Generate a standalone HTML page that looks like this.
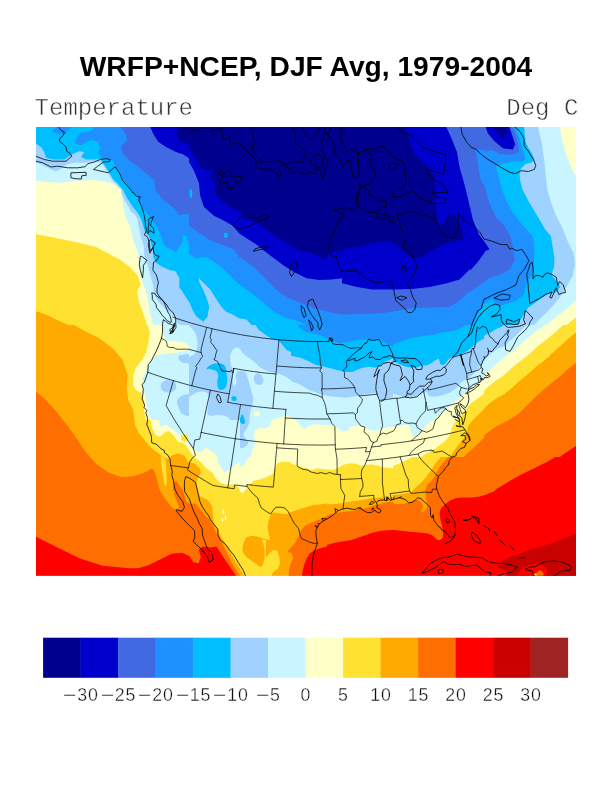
<!DOCTYPE html>
<html lang="en"><head><meta charset="utf-8"><title>WRFP+NCEP, DJF Avg, 1979-2004</title>
<style>
html,body{margin:0;padding:0;background:#fff;}
body{width:612px;height:792px;position:relative;overflow:hidden;font-family:"Liberation Sans",sans-serif;}
#map{position:absolute;left:0;top:0;}
.title{position:absolute;left:0;top:51.2px;width:612px;text-align:center;font:bold 28.2px/30px "Liberation Sans",sans-serif;color:#000;letter-spacing:0px;white-space:nowrap;}
.sub{position:absolute;top:97.2px;font:24px/24px "Liberation Mono",monospace;color:#333;white-space:nowrap;-webkit-text-stroke:0.5px #fff;}
.sub.l{left:34.6px;letter-spacing:0px;}
.sub.r{left:506.3px;letter-spacing:0px;}
.lb{position:absolute;top:685.3px;width:60px;text-align:center;font:17.8px/20px "Liberation Sans",sans-serif;color:#111;white-space:nowrap;letter-spacing:0.8px;-webkit-text-stroke:0.35px #fff;}
.lb i{font-style:normal;display:inline-block;transform:scaleX(1.3);transform-origin:100% 50%;margin-left:1px;}
</style></head><body>
<svg id="map" width="612" height="792" viewBox="0 0 612 792">
<defs><clipPath id="cp"><rect x="36" y="127" width="540" height="448.7"/></clipPath><clipPath id="t0"><rect x="36" y="127" width="153" height="198"/></clipPath><clipPath id="t1"><rect x="189" y="127" width="153" height="198"/></clipPath><clipPath id="t2"><rect x="342" y="127" width="128" height="198"/></clipPath><clipPath id="t3"><rect x="470" y="127" width="106" height="198"/></clipPath><clipPath id="t4"><rect x="36" y="325" width="153" height="198"/></clipPath><clipPath id="t5"><rect x="36" y="523" width="102" height="53"/></clipPath><clipPath id="t6"><rect x="189" y="325" width="102" height="132"/></clipPath><clipPath id="t7"><rect x="291" y="325" width="102" height="132"/></clipPath><clipPath id="t8"><rect x="189" y="457" width="102" height="120"/></clipPath><clipPath id="t9"><rect x="291" y="457" width="102" height="120"/></clipPath><clipPath id="t10"><rect x="393" y="325" width="91" height="132"/></clipPath><clipPath id="t11"><rect x="484" y="325" width="92" height="132"/></clipPath><clipPath id="t12"><rect x="393" y="457" width="102" height="120"/></clipPath><clipPath id="t13"><rect x="495" y="457" width="81" height="120"/></clipPath><clipPath id="t14"><rect x="225" y="500" width="102" height="77"/></clipPath><clipPath id="t15"><rect x="138" y="420" width="102" height="120"/></clipPath><clipPath id="t16"><rect x="138" y="540" width="128" height="36"/></clipPath></defs>
<g clip-path="url(#cp)">
<rect x="36" y="127" width="540" height="448.7" fill="#c8f5ff"/>
<g clip-path="url(#t0)">
<rect x="36" y="127" width="153" height="198" fill="#c8f5ff"/>
<path fill="#a0d2ff" d="M35.2,162.3L42.7,165.3 51,169.5 56,171.2 61,168.7 66.8,164.5 74.3,162.8 84.3,162.8 94.3,161.2 101,162.8 104.3,167 107.7,172.8 111.8,180.3 116.8,185.3 118.6,188 121.4,193.7 124.3,199.4 128.3,206.3 131.2,212 134.6,214.3 137.5,218.9 138,224.6 139.7,230.3 140.9,237.2 143.2,244.1 144.3,250.9 144.3,257.8 147.7,264.6 148.9,270 153,285 154.2,295 159.2,302.5 166.8,310 174.2,316.2 178,323.8 185.5,327.5 195.5,330 700,330 700,-50 -50,-50Z"/>
<path fill="#00bfff" d="M35.2,143.2L41,147 44.3,152 46,157.8 52.7,159.5 64.3,159.5 71.8,154.5 79.3,151.2 84.3,152 81,157 86,159.5 94.3,159.5 100.2,158.7 102.7,162.8 106,167.8 109.3,172.8 112.7,178.7 117.7,183.7 122.7,189.5 127.2,198.3 131.7,205.2 136.3,210.9 138.6,214.3 141.5,220 143.2,225.8 144.9,231.5 149.5,237.2 151.2,244.1 152.9,250.9 153.5,257.8 155.8,262.4 160.3,265.8 164.9,268.1 169.5,270 175.5,271.2 180.5,280 179.2,287.5 185.5,295 190.5,305 195.5,315 700,320 700,-50 -50,-50Z"/>
<path fill="#00bfff" d="M179.2,285L183.3,293.3 189.2,301.7 192.5,310 196.7,316.7 203.3,321.7 207.5,316.7 209.2,306.7 206.7,298.3 203.3,290 199.2,281.7 198.3,276 195,268 180,268Z"/>
<path fill="#1e90ff" d="M94.3,126.2L91,131.2 81,132.8 76,138.7 75.2,143.7 81,145.3 91,139.5 97.7,142 100.2,147 98.5,153.7 101.8,157.8 109.3,158.7 113.5,161.2 115.2,167 119.3,172.8 122.7,178.7 126.8,183.7 130.6,190.3 134.6,194.3 138.6,198.3 140.3,202.9 143.2,208.6 147.7,214.3 150,217.7 154.6,223.5 158,229.2 161.5,237.2 163.8,244.1 167.2,247.5 171.8,249.8 175.8,252.1 180,246 183,241 182.5,235 186.8,236.3 189.3,247.5 195.5,257.5 205.5,260 700,260 700,-50 300,-50Z"/>
<path fill="#1e90ff" d="M52.7,130.3L57.7,126.2 71.8,126.2 65.2,133.7 59.3,134.5 52.7,132Z"/>
<path fill="#4169e1" d="M120.2,126.2L126,133.7 126.8,140.3 121,147 122.7,153.7 129.3,160.3 136,165.3 154.2,180 155.5,190 163,200 173,207.5 179.2,215 188,213.8 193,217.5 203,226.2 700,230 700,-50 120,-50Z"/>
<path fill="#0000cd" d="M149.8,125.8L153.5,134.5 158.5,142 166,147 176,152 183.5,154.5 189,158.2 199.2,190 203,200 209.2,207.5 700,210 700,-50Z"/>
<path fill="#00008e" d="M177.2,125.8L176.8,134.5 179.8,140.8 186,143.2 189,144 200,165 700,170 700,-50Z"/>
<path fill="#ffffc8" d="M35.2,180.3L46,182 61,182.8 77.7,180.7 94.3,180 106,181.7 114.3,184.5 121,189.5 123,205 125.5,217.5 130.5,227.5 133,240 138,252.5 139.2,265 141.8,280 145.5,290 148,300 150.5,315 154.2,327.5 154,850 -50,850Z"/>
<path fill="#ffe132" d="M34.8,234L51,237 66,240 81,243.2 96,247 120.5,260 130.5,267.5 138,276.2 140.5,285 136.8,291.2 139.2,302.5 143,312.5 146.8,325 149.2,340 149,850 -50,850Z"/>
<path fill="#ffaa00" d="M34.8,310.8L46,314.5 58.5,320.8 68.5,325 60,850 -50,850Z"/>
</g>
<g clip-path="url(#t1)">
<rect x="189" y="127" width="153" height="198" fill="#a0d2ff"/>
<path fill="#00bfff" d="M189,302L194,292 199,278.2 204,283.2 210.2,289.5 216.5,299.5 221.5,307 226.5,312 232.8,314.5 239,318.2 246.5,319.5 251.5,325 252,850 700,850 700,-50 -50,-50 -50,302Z"/>
<path fill="#00bfff" d="M179.2,285L183.3,293.3 189.2,301.7 192.5,310 196.7,316.7 203.3,321.7 207.5,316.7 209.2,306.7 206.7,298.3 203.3,290 199.2,281.7 198.3,276 195,268 180,268Z"/>
<path fill="#1e90ff" d="M189,254.5L196.5,258.2 206.5,257 216.5,263.2 226.5,272 236.5,282 246.5,289.5 256.5,297 266.5,305.8 276.5,313.2 286.5,318.2 296.5,320.8 306.5,325 700,330 700,-50 -50,-50 -50,254Z"/>
<path fill="#4169e1" d="M189,225.8L199,233.2 209,239.5 221.5,244.5 234,249.5 239,257 249,263.2 259,272 269,282 279,292 289,298.2 301.5,303.2 314,308.2 329,312 342,314.5 700,315 700,-50 -50,-50 -50,226Z"/>
<path fill="#0000cd" d="M189,162L194,170.8 199,183.2 200.2,195.8 204,207 214,215.8 224,220.8 232.8,225.8 239,233.2 246.5,238.2 256.5,244.5 264,250.8 274,258.2 284,265.8 294,272 306.5,278.2 319,280 331.5,279.5 342,278.2 700,278 700,-50 -50,-50 -50,162Z"/>
<path fill="#00008e" d="M189,148.2L195.2,157 201.5,168.2 210.2,170.8 214,168.2 210.2,177 215.2,183.2 214,192 221.5,200.8 230.2,207 239,210.8 245.2,217 251.5,220.8 257.8,223.2 266.5,229.5 276.5,237 289,244.5 299,250.8 309,252 316.5,255.8 325.2,259.5 330.2,252 342,250.8 700,250 700,-50 -50,-50 -50,148Z"/>
<path fill="#00bfff" d="M189.5,190L191.5,189 192.3,193 191.5,198 189.8,197Z"/>
<path fill="#00bfff" d="M224,233.5L226.5,232.5 228,235 227,238 224.5,237.5Z"/>
</g>
<g clip-path="url(#t2)">
<rect x="342" y="127" width="128" height="198" fill="#1e90ff"/>
<path fill="#4169e1" d="M342,314.5L362,314 382,313.2 397,310.8 412,308.2 429.5,307.5 449.5,307 460,300.5 469.2,291.5 482,282 495,273.2 700,287 700,-50 -50,-50 -50,314Z"/>
<path fill="#0000cd" d="M342,283.2L357,287 372,289.5 392,289.5 412,289 429.5,287 447,283.2 459.5,279.5 467,272 477,262 485.8,250.8 489.5,244.5 482,237 474.5,227 470.8,212 468.2,199.5 464.5,184.5 459.5,167 457,152 452,139.5 445.8,125.8 440,-50 -50,-50 -50,283Z"/>
<path fill="#00008e" d="M342,249.5L357,247 372,243.2 387,240.8 395.8,244.5 404.5,252 412,258.2 422,257 429.5,252 438.2,247 447,243.2 457,240.8 463.2,239.5 462,229.5 458.2,220.8 454.5,215.8 449.5,213.2 444.5,222 440.8,227 438.2,222 436.5,212 435.8,202 435,192 434.5,182 433.2,174.5 427,167 419.5,159.5 413.2,152 410.8,144.5 408.2,135.8 404.5,125.8 400,-50 -50,-50 -50,249Z"/>
</g>
<g clip-path="url(#t3)">
<rect x="470" y="127" width="106" height="198" fill="#ffffc8"/>
<path fill="#c8f5ff" d="M559.7,125.6L562.5,142.2 566.7,156.1 572.2,170 577.8,179.7 583.3,231.1 577.8,286.7 575.8,300.6 566.7,308.9 555.6,317.2 544.4,326.9 530.6,340.8 540,850 -50,850 -50,-50Z"/>
<path fill="#a0d2ff" d="M537.5,125.6L541.7,142.2 544.4,161.7 545.8,175.6 547.2,189.4 551.4,203.3 555.6,214.4 562.5,228.3 568.1,242.2 573.6,253.3 575,264.4 572.8,275.6 566.7,286.7 559.7,297.8 550,308.9 538.9,320 527.8,331.1 519.4,340.8 520,850 -50,850 -50,-50Z"/>
<path fill="#00bfff" d="M524.1,125.9L524.8,134.7 525.5,142.1 528.5,147.9 532.1,153.8 534.4,159.7 531.4,162.6 525.5,164.1 521.1,168.5 519.6,174.4 520,180 522.5,189.5 529,202 536.5,214.5 545.2,229.5 550.9,236 552.5,246 554.5,258 554,267 551.5,274.5 555.2,279.5 560.2,287 556.5,292 546.5,294.5 538.9,300 527.8,308 523,316 519,322 515,331 505,850 -50,850 -50,-50Z"/>
<path fill="#1e90ff" d="M513.8,125.9L516.7,131 518.9,136.2 520.4,142.1 522.6,149.4 524.8,155.3 525.5,159 522.6,161.2 515.2,161.2 507.9,162.6 500.5,164.1 496.1,165.6 496.9,171.5 498,176 499.5,180 502,190 507,202 513,213 520,222 527,230 532.8,236 534.5,250 534,262 531.9,275.6 526.4,283.9 523.6,295 516.7,300.6 508.3,303.3 500,306.1 491.5,299.5 482.8,304.5 477.8,313.2 472.8,325.8 470,850 -50,850 -50,-50Z"/>
<path fill="#4169e1" d="M511.6,125.9L514.5,131.8 516.7,137.6 518.2,145 518.9,151.6 513.8,154.6 506.4,154.6 499.1,153.8 494.6,150.9 490.2,150.1 487.3,151.6 481.4,149.4 476.3,148.7 476.3,153.8 477.7,164.1 479.2,171.5 480.7,180 484,184.5 489,202 496,217.5 504.3,225.8 509.9,235.6 512,242.5 513.4,250.8 514.8,259.2 512.7,263.3 509.9,268.9 504.3,273.1 496,275.8 489,278.2 479,285.8 469,292.5 459,299.5 -50,300 -50,-50Z"/>
<path fill="#0000cd" d="M459,165.8L464.5,184.5 469,202 472.8,219.5 479,234.5 486.5,244.5 489.5,249.5 485.8,250.8 477.8,262 469,272 459,279.5 -50,280 -50,165Z"/>
<path fill="#0000cd" d="M485.2,125.8L487.8,133.2 494,140.8 502.8,148.2 512.8,149.5 515.2,144.5 512.8,137 510.2,129.5 509,125.8 500,-50Z"/>
<path fill="#00008e" d="M492.8,125.8L496.5,132 502.8,138.2 506.5,132 507.8,125.8 500,-50Z"/>
<path fill="#ffe132" d="M576.5,317L566.5,325 565,850 700,850 700,317Z"/>
</g>
<g clip-path="url(#t4)">
<rect x="36" y="325" width="153" height="198" fill="#c8f5ff"/>
<path fill="#ffffc8" d="M162.2,325L163.5,335 166,340.5 176,341.2 186,342.5 189,346.2 189,350 178.5,352.5 166,353.8 156,355 149.8,362.5 146,371.2 142.2,378.8 143.5,387.5 146,400 148.5,412.5 152.2,422.5 157.2,430 161,425 166,425 172.2,431.2 178.5,436.2 186,437.5 189,438.8 700,440 700,850 -50,850 -50,-50 162,-50Z"/>
<path fill="#ffe132" d="M147.8,325L149.8,332.5 148.5,342.5 146,352.5 142.2,360 136,367.5 133.5,375 133,385 136,390.5 141,392.5 143.5,400 144,410 146,420 149,430 153.5,435 153,850 -50,850 -50,-50 148,-50Z"/>
<path fill="#ffaa00" d="M72.7,324L86,331.7 99.3,338.3 112.7,348.3 122.7,360 127.7,375 126.7,388.3 128.3,400 133.3,410 135,425 139.3,433.3 145.7,441.7 151.7,448.3 168,850 -50,850 -50,-50 73,-50Z"/>
<path fill="#ff6e00" d="M34.8,390.5L46,400 56,411.2 66,423.8 76,437.5 86,452.5 96,463.8 108.5,472.5 121,477 133.5,476.2 143.5,472.5 152.2,467.5 154.8,472.5 156,480 158.5,487.5 163.5,497.5 171,505 176,511.2 179.8,517.5 183.5,523 183,850 -50,850Z"/>
<path fill="#a0d2ff" d="M161,383.8C161.8,382.1 164.9,380.2 167.2,380C169.5,379.8 173.3,381 174.8,382.5C176.3,384 176.8,387.1 176,388.8C175.2,390.5 172.1,392.2 169.8,392.5C167.5,392.8 163.7,391.9 162.2,390.5C160.7,389.1 160.2,385.6 161,383.8Z"/>
<path fill="#a0d2ff" d="M178.5,356.2C180,354.9 188.9,353.4 191,354.5C193.1,355.6 192.5,361.2 191,362.5C189.5,363.8 184.3,363.6 182.2,362.5C180.1,361.4 177,357.5 178.5,356.2Z"/>
<path fill="#a0d2ff" d="M177.2,400C178,397.9 181.2,395.6 183.5,395C185.8,394.4 189.8,392.9 191,396.2C192.2,399.5 192.5,412.1 191,415C189.5,417.9 184.3,415.1 182.2,413.8C180.1,412.6 179.3,409.8 178.5,407.5C177.7,405.2 176.4,402.1 177.2,400Z"/>
</g>
<g clip-path="url(#t5)">
<rect x="36" y="523" width="102" height="53" fill="#ff6e00"/>
<path fill="#ff0000" d="M34.3,536L56,546.7 79.3,558.3 102.7,565.7 129.3,568.3 139.3,568.3 140,850 -50,850Z"/>
</g>
<g clip-path="url(#t6)">
<rect x="189" y="325" width="102" height="132" fill="#a0d2ff"/>
<path fill="#00bfff" d="M254.8,324.2L259,330 265.7,335 272.3,339.2 279,340.8 282.3,345 286.5,350 292.3,352.5 700,-50Z"/>
<path fill="#c8f5ff" d="M188.2,328.3C189,324.1 191.8,328.6 193.2,330C194.6,331.4 195.8,334.2 196.5,336.7C197.2,339.2 197.4,342.4 197.3,345C197.2,347.6 196.7,350.7 195.7,352.5C194.7,354.3 192.8,355.4 191.5,355.8C190.2,356.2 188.8,359.6 188.2,355C187.6,350.4 187.4,332.5 188.2,328.3Z"/>
<path fill="#c8f5ff" d="M188.2,397.5L188.9,397.1 189.8,396.5 191,395.7 192.3,395 193.8,394.1 195.4,393.1 197.2,392.3 199,391.7 200.9,391.5 203,391.6 205,392 206.5,392.5 207.6,393.2 208.3,394.1 208.7,395.3 209,396.7 209,398.5 208.8,400.6 208.5,402.8 208.2,405 207.9,407.2 207.5,409.5 207.2,411.6 207.3,413.3 207.8,414.4 208.5,415.1 209.5,415.5 210.7,415.8 212.1,415.8 213.8,415.5 215.6,415.2 217.3,415 219,415 220.8,415.2 222.4,415.4 224,415.8 225.4,416.2 226.8,416.8 228,417.5 229,418.3 229.9,419.4 230.8,420.6 231.3,422 231.5,423.3 231,424.6 230.1,425.9 229,427.2 228.2,428.3 227.5,429.2 226.9,430.1 226.5,430.8 226.5,431.7 227.1,432.7 228.2,433.8 229.5,434.9 230.7,435.8 231.8,436.5 232.9,437.1 233.9,437.6 234.8,438.3 235.5,439 236,439.8 236.3,440.7 236.5,441.7 236.3,442.9 235.9,444.3 235.6,445.7 235.7,446.7 236.5,447.4 237.8,448 239.3,448.3 240.7,448.3 242.2,448 243.8,447.4 245.3,446.6 246.5,445.8 247.3,444.9 247.9,443.8 248.2,442.7 248.2,441.7 247.9,440.8 247.2,440 246.4,439.2 245.7,438.3 244.9,437.3 244.1,436.4 243.4,435.3 243.2,434.2 243.6,433 244.5,431.8 245.6,430.5 246.5,429.2 247.2,427.8 247.9,426.4 248.5,424.9 249,423.3 249.3,421.5 249.5,419.5 249.6,417.6 249.8,415.8 250,414.2 250.2,412.7 250.4,411.4 250.7,410 251.1,408.7 251.5,407.6 251.9,406.4 252.3,405 252.6,403.4 253,401.8 253.2,400 253.2,398.3 253,396.6 252.5,395 252,393.4 251.5,391.7 251.1,390.1 250.7,388.5 250.3,386.8 249.8,385 249.2,382.9 248.5,380.7 247.9,378.5 247.3,376.7 246.9,375.3 246.7,374.2 246.3,373.3 245.7,372.5 244.7,371.8 243.3,371.3 241.9,371 240.7,370.8 239.7,370.7 238.8,370.8 238,371.1 237.3,371.7 236.7,372.6 236.2,373.9 235.9,375.3 235.7,376.7 235.8,378.2 236.2,379.7 236.5,381.2 236.5,382.5 236.1,383.7 235.4,384.8 234.6,385.6 234,385.8 233.5,385.4 233.2,384.5 232.9,383.2 232.7,381.7 232.7,379.8 232.9,377.5 233.1,375.2 233.2,373.3 233.2,371.9 233.1,370.8 233,369.8 232.7,368.7 232.3,367.6 231.7,366.5 231.1,365.4 230.7,364.2 230.5,362.8 230.3,361.2 230.3,359.7 230.3,358.3 230.3,357.2 230.3,356.2 230.4,355.2 230.7,354.2 231.1,352.9 231.7,351.5 232.3,350.2 233.2,349.2 234.3,348.4 235.6,347.7 237,347.4 238.2,347.5 239.3,348.3 240.2,349.6 241.2,351.1 242.3,352.5 243.5,353.6 244.7,354.7 246,355.7 247.3,356.7 248.7,357.7 250.3,358.7 251.8,359.7 253.2,360.8 254.5,362 255.8,363.3 257,364.6 258.2,365.8 259.4,366.8 260.6,367.7 261.9,368.5 263.2,369.2 264.6,369.9 266,370.6 267.5,371.2 269,371.7 270.6,372.2 272.3,372.6 274,372.9 275.7,373.3 277.3,373.6 278.8,373.9 280.4,374.3 282.3,375 284.8,376.3 287.7,378 290.4,379.7 292.3,380.8 700,850 -50,850Z"/>
<path fill="#a0d2ff" d="M254.8,375C255.6,373.9 257.8,373 259,373.3C260.2,373.6 261.6,375.3 262.3,376.7C263.1,378.1 263.8,380.4 263.5,381.7C263.2,383 261.9,384.3 260.7,384.7C259.5,385.1 257.6,385 256.5,384.2C255.4,383.4 254.3,381.5 254,380C253.7,378.5 254,376.1 254.8,375Z"/>
<path fill="#00bfff" d="M206.5,368.3C206.8,367.5 210.2,365 212.3,364.2C214.4,363.4 216.9,363 219,363.3C221.1,363.6 223.6,364.1 224.8,365.8C226.1,367.5 226.1,370.9 226.5,373.3C226.9,375.7 227.4,377.6 227.3,380C227.2,382.4 226.7,385.8 225.7,387.5C224.7,389.2 222.8,389.9 221.5,390C220.2,390.1 218.9,389.7 218.2,388.3C217.5,386.9 217.3,383.9 217.3,381.7C217.3,379.5 218.5,376.8 218.2,375C217.9,373.2 216.9,371.8 215.7,370.8C214.4,369.8 212.2,369.6 210.7,369.2C209.2,368.8 206.2,369.1 206.5,368.3Z"/>
<path fill="#00bfff" d="M239.8,420C239.9,418.4 241.6,414.5 242.3,414.2C243.1,413.9 243.9,416.8 244.3,418.3C244.7,419.8 245.3,422.4 244.8,423.3C244.3,424.2 242.3,424.2 241.5,423.7C240.7,423.1 239.7,421.6 239.8,420Z"/>
<path fill="#00bfff" d="M231.5,397C232,396.3 234.9,396.1 235.7,396.7C236.5,397.2 237,399.6 236.5,400.3C236,401 233.5,401.4 232.7,400.8C231.9,400.2 231,397.7 231.5,397Z"/>
<path fill="#ffffc8" d="M292.3,416.7L290.9,416.5 288.9,416.1 286.7,415.9 284.8,415.8 283.4,416 282.3,416.4 281.2,417 279.8,417.5 278,418 275.9,418.5 273.9,419.2 272.3,420 271.4,421.1 270.8,422.4 270.4,423.8 269.8,425 268.9,426 268,427 266.9,427.7 265.7,428.3 264.1,428.5 262.4,428.3 260.6,428.1 259,428.3 257.7,428.9 256.5,429.7 255.6,430.7 254.8,431.7 254.2,432.8 253.9,434.1 253.7,435.4 253.7,436.7 254.1,437.9 254.8,439.1 255.4,440.3 255.7,441.7 255.4,443.2 254.7,444.7 253.9,446.4 253.2,448.3 252.5,450.6 251.8,453.3 251.1,455.8 250.7,457.5 700,850Z"/>
<path fill="#ffffc8" d="M254,412.5C254.7,411.8 258,411.3 259,411.7C260,412.1 260.5,414.3 259.8,415C259.1,415.7 255.8,416.2 254.8,415.8C253.8,415.4 253.3,413.2 254,412.5Z"/>
<path fill="#ffffc8" d="M188.2,428.3C188.9,424 191.3,429.5 192.3,431.7C193.3,433.9 194,438.4 194,441.7C194,445 193.3,449.1 192.3,451.7C191.3,454.3 188.9,461.4 188.2,457.5C187.5,453.6 187.5,432.6 188.2,428.3Z"/>
<path fill="#ffffc8" d="M203.2,451.7C203.8,450.2 205.2,448.3 206.5,448.3C207.8,448.3 209.9,450.2 210.7,451.7C211.5,453.2 212.8,456.5 211.5,457.5C210.2,458.5 204.6,458.5 203.2,457.5C201.8,456.5 202.6,453.2 203.2,451.7Z"/>
</g>
<g clip-path="url(#t7)">
<rect x="291" y="325" width="102" height="132" fill="#ffffc8"/>
<path fill="#c8f5ff" d="M290.2,418.3L296,420 300.2,425 304.3,429.2 309.3,425.8 316,424.2 324.3,425 334.3,425.8 339.3,429.2 342.7,431.7 347.7,430.8 350.2,426.7 357.7,425.8 364.3,426.7 369.3,430 376,430.8 381,429.2 386.8,427.5 394.3,426.7 700,-50 -50,-50Z"/>
<path fill="#a0d2ff" d="M290.2,380.8L291.9,381.4 294.2,382.2 296.9,383.2 299.3,384.2 301.5,385.4 303.6,386.7 305.6,388 307.7,389.2 309.8,390.2 311.9,391 313.9,391.8 316,392.5 318,393.2 320,393.9 322.1,394.5 324.3,395 326.6,395.5 329.1,396 331.6,396.4 334.3,396.7 337.1,397 340,397.3 343,397.5 346,397.5 349,397.2 352.1,396.8 355,396.3 357.7,395.8 360,395.4 362,395 363.9,394.5 366,394.2 368.5,393.7 371.2,393.2 373.8,392.9 376,393.3 377.6,394.8 378.8,397.2 379.8,399.4 381,400.8 382.4,400.8 383.7,400.1 385.2,399 386.8,398.3 388.7,398 390.9,397.7 392.9,397.6 394.3,397.5 700,-50 -50,-50Z"/>
<path fill="#00bfff" d="M290.2,355.8L291.9,356.1 294.2,356.4 296.9,356.9 299.3,357.5 301.5,358.2 303.6,359 305.6,359.9 307.7,360.8 309.8,361.8 311.9,363 313.9,364.1 316,365 318,365.6 320,366 322.1,366.3 324.3,366.7 326.7,367.3 329.2,367.9 331.8,368.6 334.3,369.2 336.8,369.9 339.4,370.6 341.9,371.3 344.3,371.7 346.5,372 348.6,372.1 350.6,372 352.7,371.7 354.8,371 356.9,370.1 358.9,369.1 361,368.3 363.1,367.7 365.2,367.2 367.3,366.9 369.3,366.7 371.1,366.9 372.6,367.3 374.2,367.7 376,367.5 377.9,366.7 379.9,365.4 382.1,363.9 384.3,362.5 386.9,361.1 389.8,359.7 392.5,358.4 394.3,357.5 700,-50 -50,-50Z"/>
<path fill="#1e90ff" d="M296.8,324.2L297.8,325.3 299.2,326.9 300.9,328.6 302.7,330 304.6,331 306.7,331.9 308.9,332.6 311,333.3 313.1,333.8 315.1,334.1 317.2,334.5 319.3,335 321.4,335.7 323.4,336.5 325.5,337.4 327.7,338.3 330.1,339.4 332.7,340.6 335.3,341.7 337.7,342.5 339.8,342.9 341.7,342.9 343.7,342.8 346,342.5 348.7,342 351.7,341.3 354.8,340.6 357.7,340 360.3,339.6 362.8,339.4 365.2,339.2 367.7,339.2 370.2,339.2 372.8,339.3 375.3,339.6 377.7,340 379.9,340.6 382,341.4 384,342.4 386,343.3 388.3,344.4 390.7,345.6 392.8,346.7 394.3,347.5 700,-50Z"/>
</g>
<g clip-path="url(#t8)">
<rect x="189" y="457" width="102" height="120" fill="#ffe132"/>
<path fill="#ffffc8" d="M188.2,460.8L194,458.3 199,461.7 205.7,468.3 212.3,475 215.7,480.8 214.8,485 222.3,487.5 229,488 234,486.7 237.3,489.2 242.3,493.3 245.7,490 247.7,486.3 254,480.8 260.7,479.2 267.3,476.7 272.3,474.2 274.8,468.3 277.3,463.3 282.3,461.7 287.3,461.7 292.3,462.5 700,-50 -50,-50Z"/>
<path fill="#c8f5ff" d="M193.2,444.2L199,449.2 204.8,450.8 208.2,447.5 212.3,448.3 216.5,451.7 218.2,456.7 217.3,461.7 219.8,466.7 223.2,472.5 226.5,470.8 229.8,466.7 232.7,462.5 235.7,461.7 239,466.7 243.2,465.8 246.5,460.8 249,456.7 251.5,452.5 254.8,448.3 257.3,444.2 300,-50Z"/>
<path fill="#ffffc8" d="M222.3,509.2L224.3,508.3 224.7,520.8 222.7,521.3Z"/>
<path fill="#ffaa00" d="M188.2,462.5L194,463.3 199,468.3 200.7,475 199,480.8 196.5,485 197.3,491.7 201.5,496.7 208.2,500 212.3,503.3 214,510 212.3,516.7 214,523.3 218.2,530 219.8,536.7 223.2,543.3 226.5,550 230.7,556.7 234.8,563.3 239,570 243.2,576.7 -50,850Z"/>
<path fill="#ff6e00" d="M188.2,501.7L192.3,503.3 198.2,506.7 204,510.8 208.2,516.7 209.8,523.3 212.3,530 215.7,536.7 219.8,543.3 223.2,550 226.5,555.8 229.8,561.7 234,568.3 238.2,576.7 -50,850Z"/>
<path fill="#ffaa00" d="M244,545C244.3,542.5 245.2,540 246.5,538.3C247.8,536.6 249.7,535.3 251.5,535C253.3,534.7 255.5,535.9 257.3,536.7C259.1,537.5 260.6,538.6 262.3,540C264,541.4 266.2,543 267.3,545C268.4,547 269.3,549.5 269,551.7C268.7,553.9 266.8,556.1 265.7,558.3C264.6,560.5 263.4,563.3 262.3,565C261.2,566.7 260.2,568.3 259,568.3C257.8,568.3 256.3,566.4 254.8,565C253.3,563.6 251.5,562 249.8,560C248.1,558 245.8,555.8 244.8,553.3C243.8,550.8 243.7,547.5 244,545Z"/>
<path fill="#ffaa00" d="M292.3,515L287.3,512.5 280.7,511.7 274,513.3 270.7,518.3 269,525 267.3,531.7 269,538.3 270.7,545 272.3,551.7 275.7,551.7 279,555 280.7,561.7 279,568.3 282.3,571.7 287.3,573.3 292.3,575 700,600Z"/>
<path fill="#ffffc8" d="M271.5,561.7C272.5,558.9 273.6,554.4 274.8,553.3C276.1,552.2 278,553.6 279,555C280,556.4 280.6,559.2 280.7,561.7C280.8,564.2 280.4,567.4 279.8,570C279.2,572.6 278.8,576.2 277.3,577.5C275.8,578.8 272.1,578.8 270.7,577.5C269.3,576.2 268.9,572.6 269,570C269.1,567.4 270.5,564.5 271.5,561.7Z"/>
</g>
<g clip-path="url(#t9)">
<rect x="291" y="457" width="102" height="120" fill="#ffffc8"/>
<path fill="#ffe132" d="M290.2,463.3L297.7,465.8 306,468.3 312.7,470 317.7,468.3 324.3,469.2 332.7,470 337.7,468.3 342.7,465 349.3,463.3 356,463.7 361,465.8 366,465 371,464.2 377.7,465.8 384.3,467.5 394.3,468.3 700,850 -50,850Z"/>
<path fill="#ffaa00" d="M290.2,512.5L291.9,511.9 294.2,511.1 296.9,510.1 299.3,509.2 301.5,508.3 303.6,507.4 305.6,506.6 307.7,505.8 309.8,505 311.9,504.3 313.9,503.7 316,503.3 318.1,503.3 320.1,503.6 322.2,504 324.3,504.2 326.4,504.3 328.5,504.3 330.6,504.3 332.7,504.2 334.8,504.1 336.9,503.9 338.9,503.6 341,503.3 343.1,502.9 345.1,502.5 347.2,502.1 349.3,501.7 351.4,501.4 353.5,501.2 355.6,501.1 357.7,500.8 359.8,500.4 361.9,500 363.9,499.6 366,499.2 368.1,498.9 370.1,498.5 372.2,498.2 374.3,498 376.3,497.8 378.3,497.7 380.4,497.6 382.7,497.5 385.6,497.3 389,497.1 392.1,496.9 394.3,496.7 700,850 -50,850Z"/>
<path fill="#ff6e00" d="M301,577.5L301.3,575.1 301.8,571.7 302.3,568 302.7,565 303,562.9 303.3,561.3 303.5,559.8 303.5,558.3 303.2,556.6 302.6,555 302,553.4 301.3,551.7 300.6,550 299.7,548.4 299,546.7 298.5,545 298.3,543.3 298.4,541.6 298.6,540 299,538.3 299.5,536.6 300.2,534.9 300.9,533.2 301.8,531.7 302.7,530.3 303.7,529 304.7,527.8 306,526.7 307.5,525.8 309.2,525 311,524.2 312.7,523.3 314.4,522.1 316,520.7 317.6,519.4 319.3,518.3 320.9,517.5 322.5,516.9 324.2,516.4 326,515.8 327.9,515.2 329.9,514.5 332.1,513.9 334.3,513.3 336.7,512.8 339.2,512.4 341.8,512 344.3,511.7 346.8,511.4 349.4,511.2 351.9,511.1 354.3,510.8 356.5,510.5 358.6,510.1 360.6,509.7 362.7,509.2 364.8,508.6 366.9,508 368.9,507.3 371,506.7 373.1,506.1 375.2,505.4 377.3,504.8 379.3,504.2 381.1,503.7 382.6,503.3 384.2,502.9 386,502.5 388.2,502.1 390.6,501.8 392.8,501.5 394.3,501.3 700,850Z"/>
<path fill="#ff0000" d="M303.5,577.5L303.8,575.8 304.2,573.4 304.7,570.8 305.2,568.3 305.7,566.1 306.3,564 306.9,561.9 307.7,560 308.6,558.2 309.5,556.4 310.6,554.8 311.8,553.3 313.1,551.9 314.6,550.5 316.1,549.3 317.7,548.3 319.3,547.5 320.8,546.9 322.5,546.4 324.3,545.8 326.3,545.2 328.4,544.5 330.6,543.9 332.7,543.3 334.7,542.8 336.8,542.5 338.8,542.1 341,541.7 343.4,541.3 345.9,541 348.5,540.5 351,540 353.5,539.3 356,538.5 358.5,537.6 361,536.7 363.5,535.8 366,535 368.5,534.1 371,533.3 373.4,532.6 375.8,531.9 378.3,531.3 381,530.8 384.4,530.5 388.3,530.2 391.8,530.1 394.3,530 700,850Z"/>
<path fill="#ffe132" d="M290.2,553.3L292.3,555 291.8,558.3 290.2,559.2Z"/>
</g>
<g clip-path="url(#t10)">
<rect x="393" y="325" width="91" height="132" fill="#ff6e00"/>
<path fill="#ffaa00" d="M463,457.5L464.5,456.2 466.6,454.3 469,452.1 471.3,450 473.4,448 475.5,445.9 477.6,443.7 479.7,441.7 481.8,439.8 483.9,437.9 485.9,436.1 488,434.2 490.3,432.1 492.7,429.8 494.8,427.7 496.3,426.3 700,-50 -50,-50 -50,850Z"/>
<path fill="#ffe132" d="M449.7,457.5L450.6,456.1 451.9,454.2 453.3,452 454.7,450 455.9,448.3 457.2,446.6 458.4,444.9 459.7,443.3 461,441.6 462.4,439.9 463.6,438.2 464.7,436.7 465.5,435.3 466.2,434.1 466.8,432.9 467.2,431.7 467.4,430.5 467.4,429.3 467.5,428.1 468,426.7 468.9,425.1 470.1,423.5 471.5,421.7 473,420 474.6,418.3 476.2,416.6 478,414.9 479.7,413.3 481.3,411.8 482.8,410.5 484.4,409 486.3,407.5 488.8,405.6 491.7,403.4 494.4,401.4 496.3,400 700,-50 -50,-50 -50,850Z"/>
<path fill="#ffffc8" d="M420.5,457.5L421.5,456.7 423,455.6 424.7,454.4 426.3,453.3 427.9,452.5 429.6,451.7 431.3,450.9 433,450 434.7,448.9 436.4,447.6 438,446.3 439.7,445 441.4,443.8 443.2,442.6 444.8,441.4 446.3,440 447.6,438.4 448.7,436.8 449.7,435 450.5,433.3 451,431.6 451.4,430 451.7,428.3 452.2,426.7 453,425.2 454,423.6 455.2,422.2 456.3,420.8 457.5,419.5 458.7,418.3 460,417.1 461.3,415.8 462.6,414.2 463.8,412.6 465.1,410.8 466.3,409.2 467.5,407.7 468.7,406.1 469.9,404.7 471.3,403.3 472.9,402 474.5,400.7 476.3,399.5 478,398.3 479.7,397.1 481.4,395.8 483,394.6 484.7,393.3 486.4,392 488.1,390.7 489.8,389.4 491.3,388.3 492.8,387.3 494.2,386.3 495.4,385.6 496.3,385 700,-50 -50,-50 -50,850Z"/>
<path fill="#c8f5ff" d="M392.2,426.7L393.5,426.5 395.4,426.3 397.6,426 399.7,425.8 401.8,425.4 404.1,424.9 406.3,424.7 408,425 409.2,426.2 410,428 410.6,430 411.3,431.7 411.9,433.3 412.5,434.8 413.1,436.1 413.8,436.7 414.7,436.4 415.8,435.5 416.9,434.3 418,433.3 419.1,432.5 420.1,431.8 421.2,430.9 422.2,430 423.2,428.9 424.1,427.6 425.1,426.3 426.3,425 427.8,423.8 429.5,422.6 431.3,421.3 433,420 434.7,418.6 436.4,417.1 438,415.6 439.7,414.2 441.4,412.9 443,411.7 444.6,410.5 446.3,409.2 448,407.8 449.6,406.3 451.3,404.7 453,403.3 454.7,402 456.5,400.7 458.1,399.5 459.7,398.3 461.1,397 462.3,395.7 463.5,394.5 464.7,393.3 465.9,392.2 467.1,391.2 468.3,390.3 469.7,389.2 471.2,388 472.9,386.7 474.6,385.4 476.3,384.2 478,383.1 479.6,382 481.3,381 483,380 484.7,378.9 486.4,377.9 488,376.8 489.7,375.8 491.5,374.7 493.4,373.5 495.1,372.4 496.3,371.7 700,-50 -50,-50Z"/>
<path fill="#a0d2ff" d="M392.2,393.3L393.6,393.8 395.5,394.4 397.7,395.2 399.7,395.8 401.4,396.3 403.1,396.9 404.7,397.3 406.3,397.5 407.9,397.5 409.5,397.4 411.2,397.1 413,396.7 415,396.2 417.3,395.6 419.4,394.9 421.3,394.2 422.8,393.4 424.2,392.5 425.3,391.9 426.3,391.7 427,392.3 427.5,393.5 428,394.8 428.8,395.8 430,396.3 431.4,396.6 433,396.7 434.7,396.7 436.6,396.5 438.8,396.1 441,395.5 443,395 444.8,394.5 446.5,393.9 448.1,393.3 449.7,392.5 451.4,391.6 453.2,390.6 454.9,389.4 456.3,388.3 457.3,387.1 458.1,385.7 458.8,384.4 459.7,383.3 460.8,382.4 461.9,381.7 463.2,381 464.7,380 466.6,378.8 468.9,377.4 471.1,375.9 473.2,374.2 475,372.4 476.6,370.3 478.2,368.3 479.8,366.3 481.3,364.5 482.8,362.8 484.4,361.1 486.3,359.2 488.8,356.8 491.7,354.2 494.4,351.7 496.3,350 700,-50 -50,-50Z"/>
<path fill="#00bfff" d="M392.2,360.8L393.6,361.4 395.5,362.3 397.7,363.3 399.7,364.2 401.4,364.9 402.9,365.6 404.5,366.2 406.3,366.7 408.3,367.1 410.4,367.4 412.6,367.5 414.7,367.5 416.7,367.2 418.6,366.8 420.5,366.2 422.2,365.8 423.7,365.6 425.1,365.6 426.5,365.4 428,365 429.7,364.1 431.5,362.9 433.2,361.7 434.7,360.8 436,360.1 437.1,359.4 438,359.1 438.8,359.2 439.3,360.1 439.6,361.6 440,363.1 440.5,364.2 441.4,364.7 442.4,364.9 443.5,364.7 444.7,364.2 445.9,363.1 447.1,361.4 448.3,359.7 449.7,358.3 451.2,357.4 452.9,356.8 454.6,356.3 456.3,355.8 458,355.2 459.6,354.6 461.3,354 463,353.3 464.7,352.4 466.4,351.5 468,350.4 469.7,349.2 471.4,347.8 473,346.2 474.6,344.7 476.3,343.3 478,342.1 479.6,341.1 481.3,340.1 483,339.2 484.7,338.3 486.4,337.5 488,336.7 489.7,335.8 491.5,334.7 493.4,333.5 495.1,332.5 496.3,331.7 700,-50 -50,-50Z"/>
<path fill="#1e90ff" d="M392.2,345L394.2,344.2 397,343.1 400.1,341.9 403,340.8 405.6,340 408.1,339.3 410.5,338.6 413,338 415.5,337.4 418,336.9 420.5,336.4 423,336 425.5,335.7 428.1,335.5 430.6,335.3 433,335 435.2,334.4 437.2,333.7 439.3,333 441.3,332.5 443.4,332.2 445.5,332.1 447.6,332 449.7,331.7 451.8,331.2 454,330.6 456,329.9 458,329.2 459.9,328.4 461.7,327.4 463.3,326.5 464.7,325.8 465.8,325.2 466.8,324.8 467.5,324.4 468,324.2 450,-50 -50,-50Z"/>
</g>
<g clip-path="url(#t11)">
<rect x="484" y="325" width="92" height="132" fill="#ff0000"/>
<path fill="#ff6e00" d="M559,457.5L560.5,456.5 562.5,455 564.9,453.3 567.3,451.7 569.9,449.9 572.8,448 575.5,446.2 577.3,445 700,-50 -50,-50 -50,850Z"/>
<path fill="#ffaa00" d="M473.2,444.7L474.5,443.6 476.4,441.9 478.6,440.1 480.7,438.3 482.7,436.6 484.8,435 486.9,433.3 489,431.7 491.1,430.1 493.1,428.6 495.2,427.1 497.3,425.8 499.4,424.7 501.5,423.7 503.6,422.7 505.7,421.7 507.8,420.5 510,419.3 512,418 514,416.7 515.8,415.5 517.5,414.3 519.1,413.1 520.7,411.7 522.3,410.2 523.9,408.6 525.5,406.8 527.3,405 529.3,403 531.4,400.9 533.6,398.8 535.7,396.7 537.8,394.7 539.9,392.9 541.9,391 544,389.2 546.1,387.5 548.1,385.8 550.2,384.2 552.3,382.5 554.4,380.8 556.5,379.2 558.6,377.5 560.7,375.8 562.8,374 564.9,372 566.9,370.1 569,368.3 571.3,366.4 573.7,364.5 575.8,362.9 577.3,361.7 700,-50 -50,-50Z"/>
<path fill="#ffe132" d="M473.2,420.3L474.6,418.9 476.5,416.9 478.7,414.6 480.7,412.5 482.4,410.6 483.9,408.8 485.5,407 487.3,405.3 489.3,403.6 491.4,401.9 493.6,400.3 495.7,398.8 497.8,397.6 499.9,396.5 501.9,395.5 504,394.2 506.1,392.7 508.1,391 510.2,389.3 512.3,387.5 514.4,385.7 516.5,383.8 518.6,381.8 520.7,380 522.8,378.3 524.9,376.6 526.9,375 529,373.3 531.1,371.5 533.1,369.5 535.2,367.6 537.3,365.8 539.4,364.1 541.5,362.5 543.6,360.9 545.7,359.2 547.8,357.4 549.9,355.5 551.9,353.6 554,351.7 556.1,349.8 558.1,347.9 560.2,346.1 562.3,344.2 564.4,342.3 566.6,340.3 568.7,338.4 570.7,336.7 572.6,335.2 574.5,333.7 576.2,332.5 577.3,331.7 700,-50 -50,-50Z"/>
<path fill="#ffffc8" d="M473.2,402.5L474.6,401.2 476.5,399.2 478.7,397.1 480.7,395 482.4,393.1 483.9,391.2 485.5,389.3 487.3,387.5 489.3,385.7 491.4,384 493.6,382.4 495.7,380.8 497.8,379.3 499.9,378 501.9,376.5 504,375 506.1,373.2 508.1,371.3 510.2,369.4 512.3,367.5 514.4,365.8 516.5,364.1 518.6,362.4 520.7,360.8 522.8,359.2 524.9,357.6 526.9,355.9 529,354.2 531.1,352.4 533.1,350.5 535.2,348.5 537.3,346.7 539.4,345 541.5,343.3 543.6,341.7 545.7,340 547.7,338.4 549.8,336.8 551.8,335.1 554,333.3 556.6,331 559.5,328.3 562.2,325.9 564,324.2 540,-50 -50,-50Z"/>
<path fill="#c8f5ff" d="M473.2,385L474.9,383.5 477.2,381.3 479.9,378.9 482.3,376.7 484.5,374.8 486.6,372.9 488.6,371.1 490.7,369.2 492.8,367.3 494.9,365.4 496.9,363.5 499,361.7 501.1,360 503.1,358.3 505.2,356.7 507.3,355 509.4,353.3 511.5,351.7 513.6,350 515.7,348.3 517.8,346.6 519.9,344.8 521.9,343 524,341.2 526.1,339.4 528.1,337.6 530.2,335.9 532.3,334.2 534.5,332.6 536.7,331.1 538.8,329.6 540.7,328.3 542.3,327.1 543.7,325.9 544.9,324.9 545.7,324.2 430,-50 -50,-50Z"/>
<path fill="#a0d2ff" d="M473.2,373.3L474.3,372.1 475.9,370.5 477.8,368.5 479.8,366.3 481.9,363.8 484.2,361 486.6,358.2 488.8,355.8 490.9,353.8 492.8,352.1 494.7,350.6 496.7,349.3 498.8,348.2 500.9,347.5 502.9,346.7 504.7,345.8 506.2,344.6 507.5,343.3 508.7,342 509.8,340.8 510.9,339.9 511.9,339.2 512.9,338.4 514,337.5 515.2,336.4 516.5,335.1 517.7,333.8 519,332.5 520.3,331.2 521.6,329.9 522.9,328.6 524,327.5 525,326.5 526,325.5 526.7,324.8 527.3,324.2 320,-50 -50,-50Z"/>
<path fill="#00bfff" d="M473.2,340.8L474.3,340.6 475.8,340.2 477.5,339.8 479,339.2 480.3,338.5 481.4,337.6 482.6,336.7 484,335.8 485.6,335 487.4,334.1 489.1,333.3 490.7,332.5 492.1,331.7 493.3,330.8 494.4,330 495.7,329.2 497.2,328.5 498.7,327.9 500.2,327.3 501.5,326.7 502.6,326 503.5,325.3 504.3,324.6 504.8,324.2 185,-50 -50,-50Z"/>
</g>
<g clip-path="url(#t12)">
<rect x="393" y="457" width="102" height="120" fill="#ffffc8"/>
<path fill="#ffe132" d="M392.2,466.3L393.5,465.8 395.4,465.1 397.6,464.2 399.7,463.3 401.7,462.4 403.8,461.3 405.9,460.3 408,459.2 410.1,458.2 412.1,457.2 414.2,456.1 416.3,455 418.4,453.8 420.6,452.5 422.7,451.2 424.7,450 426.6,448.8 428.4,447.7 430,446.6 431.3,445.8 432.2,445.5 432.7,445.5 433.2,445.3 433.8,444.2 434.8,441.5 436.1,437.8 437.2,434.2 438,431.7 700,-50 700,850 -50,850Z"/>
<path fill="#ffaa00" d="M392.2,495L393.9,494.9 396.2,494.7 398.9,494.5 401.3,494.2 403.5,493.9 405.8,493.6 407.9,493.1 409.7,492.5 411.2,491.7 412.3,490.7 413.4,489.5 414.7,488.3 416.3,487 418,485.5 419.7,484 421.3,482.5 422.7,481.1 423.9,479.7 425.1,478.2 426.3,476.7 427.6,475.1 428.8,473.4 430.1,471.7 431.3,470 432.4,468.3 433.4,466.6 434.4,465 435.5,463.3 436.9,461.6 438.4,459.9 439.9,458.2 441.3,456.7 442.6,455.3 443.9,454 445.1,452.9 446.3,451.7 447.6,450.6 448.9,449.5 450.2,448.5 451.3,447.5 452.1,446.8 452.8,446.4 453.5,445.7 454.7,444.2 456.6,441.4 459.1,437.7 461.4,434.2 463,431.7 700,-50 700,850 -50,850Z"/>
<path fill="#ff6e00" d="M392.2,503.3L393.6,503.5 395.5,503.8 397.7,504.1 399.7,504.2 401.5,504.1 403.2,503.9 404.8,503.6 406.3,503.3 407.7,503 408.9,502.6 410.1,502.1 411.3,501.7 412.6,501.2 413.8,500.6 415.1,500.2 416.3,500 417.4,500.1 418.6,500.4 419.6,501 420.5,501.7 421.3,502.7 422.1,504 422.7,505.4 423,506.7 422.8,508.1 422.1,509.6 421.5,510.9 421.3,511.7 421.8,512 422.7,511.8 423.8,511.4 424.7,510.8 425.5,510.1 426.2,509.1 426.8,508 427.2,506.7 427.2,505.2 427,503.5 426.6,501.7 426.3,500 426.1,498.3 425.8,496.6 425.6,495 425.5,493.3 425.5,491.6 425.5,490 425.8,488.3 426.3,486.7 427.3,485.2 428.6,483.7 430,482.3 431.3,480.8 432.4,479.3 433.6,477.8 434.6,476.4 435.5,475 436.2,473.7 436.8,472.4 437.4,471.2 438,470 438.7,468.8 439.5,467.6 440.3,466.3 441.3,465 442.4,463.6 443.7,462.1 445,460.6 446.3,459.2 447.5,457.9 448.7,456.6 450,455.4 451.3,454.2 452.8,452.9 454.3,451.7 455.8,450.4 457.2,449.2 458.2,448.1 459,447.2 459.9,446 461.3,444.2 463.6,441.3 466.6,437.6 469.4,434.1 471.3,431.7 700,-50 700,850 -50,850Z"/>
<path fill="#ff0000" d="M392.2,530L393.9,530.1 396.2,530.3 398.9,530.6 401.3,530.8 403.5,531 405.6,531.2 407.6,531.5 409.7,531.7 411.8,531.9 413.9,532.1 415.9,532.3 418,532.5 420.1,532.7 422.2,532.8 424.3,533 426.3,533.3 428.1,533.8 429.9,534.3 431.5,535 433,535.8 434.4,536.9 435.7,538.2 436.8,539.3 438,540 439.2,540.1 440.4,539.7 441.4,539.1 442.2,538.3 442.7,537.3 442.9,536.1 443,534.7 443,533.3 442.9,531.8 442.8,530.1 442.5,528.4 442.2,526.7 441.8,525 441.4,523.4 440.9,521.7 440.5,520 440.2,518.3 439.9,516.5 439.7,514.9 439.7,513.3 439.9,511.9 440.1,510.7 440.6,509.5 441.3,508.3 442.3,507 443.5,505.7 444.9,504.5 446.3,503.3 447.8,502.2 449.4,501 451.2,500 453,499.2 455,498.6 457,498.1 459.2,497.7 461.3,497.5 463.4,497.4 465.5,497.4 467.6,497.5 469.7,497.5 471.8,497.4 474,497.2 476,497 478,496.7 479.8,496.4 481.5,496 483.1,495.5 484.7,495 486.4,494.4 488.1,493.8 489.8,493.1 491.3,492.5 492.8,491.9 494.2,491.2 495.4,490.7 496.3,490.3 700,850 -50,850Z"/>
</g>
<g clip-path="url(#t13)">
<rect x="495" y="457" width="81" height="120" fill="#ff6e00"/>
<path fill="#ff0000" d="M473.2,496.7L474.9,496.6 477.2,496.5 479.9,496.2 482.3,495.8 484.5,495.2 486.6,494.4 488.6,493.5 490.7,492.5 492.8,491.4 494.9,490.1 496.9,488.8 499,487.5 501.1,486.2 503.1,485 505.2,483.8 507.3,482.5 509.4,481.2 511.5,479.9 513.6,478.7 515.7,477.5 517.8,476.4 519.9,475.3 521.9,474.3 524,473.3 526.1,472.3 528.1,471.3 530.2,470.2 532.3,469.2 534.4,468.2 536.5,467.1 538.6,466.1 540.7,465 542.8,464 544.9,462.9 546.9,461.9 549,460.8 551.1,459.6 553.1,458.4 555.2,457.1 557.3,455.8 559.4,454.6 561.5,453.3 563.6,452.1 565.7,450.8 567.9,449.5 570.2,448.1 572.3,446.8 574,445.8 575.3,445 576.2,444.4 576.8,444 577.3,443.7 700,850 -50,850Z"/>
<path fill="#c80000" d="M497.3,565.3L504,560 512.3,555.8 520.7,553.3 529,550 537.3,547.5 545.7,545 554,542.5 562.3,539.2 570.7,535.8 577.3,533.3 577.3,578.3 505.7,578.3 507.3,571.7 503.2,569.2 499,568Z"/>
<path fill="#ff0000" d="M517.7,578.3L519,572.5 522.3,568.3 529,565 537.3,563.7 544,565.8 547.3,570 545.7,578.3Z"/>
<path fill="#ff6e00" d="M536,578.3L536.5,572.5 539.8,570 543.2,572.5 543.7,578.3Z"/>
<path fill="#ffe132" d="M533.7,578.3L534.3,573.7 536.3,573.3 537,578.3Z"/>
</g>
<g clip-path="url(#t14)">
<rect x="225" y="500" width="102" height="77" fill="#ffe132"/>
<path fill="#ffaa00" d="M270.8,514.2L273.3,512.5 280,513.3 286.7,514.2 290,512.5 296.7,510 305,507.5 313.3,505 321.7,504.2 328.3,503 328.3,578.3 270,578.3 273.3,571.7 278.3,568.3 280,563.3 279.2,556.7 277.5,550.8 273.3,550 269.2,553.3 265.8,558.3 263.3,563.3 260.8,567.5 258.3,565.8 252.5,560.8 246.7,556.7 243.3,551.7 244.2,543.3 245.8,537.5 251.7,535.8 258.3,536.7 265,539.2 270,540 269.2,535.8 267.5,528.3 268.3,521.7Z"/>
<path fill="#ff6e00" d="M328.3,515.3L318.3,520 311.7,522.5 305,525.8 300.8,530.8 298.3,536.7 295,543.3 290,548.3 287.5,551.7 291.7,553.3 293.3,557.5 290.8,563.3 289.2,570 288.3,578.3 328.3,578.3Z"/>
<path fill="#ff0000" d="M328.3,546.3L320,548.3 315,550 310,553.3 306.7,558.3 304.2,565 302.5,571.7 301.7,578.3 328.3,578.3Z"/>
<path fill="#ffaa00" d="M224.2,548.3L228.3,551.7 233.3,558.3 238.3,566.7 242.5,575.7 243.3,578.3 224.2,578.3Z"/>
<path fill="#ff6e00" d="M224.2,553.3L228.3,557.5 232.5,564.2 235.8,570 238.3,578.3 224.2,578.3Z"/>
<path fill="#ff0000" d="M224.2,562.5L227.5,565.8 230,570.8 232,578.3 224.2,578.3Z"/>
</g>
<g clip-path="url(#t15)">
<rect x="138" y="420" width="102" height="120" fill="#c8f5ff"/>
<path fill="#ffffc8" d="M158.8,419.2L160.5,426.7 166.3,425 173.8,430 179.7,435.8 186.3,436.7 188,443.3 194.7,450 201.3,452.5 205.5,447.5 211.3,450.8 216.3,455 218,461.7 221.3,468.3 224.7,472.5 228.8,470 233.8,465.8 238,462.5 241.3,461.7 700,850 -50,850 -50,-50Z"/>
<path fill="#ffe132" d="M150.5,419.2L152.2,428.3 155.5,435 159.7,436.7 164.7,432.5 168.8,430.8 173.8,435.8 178,441.7 182.2,442.5 185.5,445 191.3,453.3 194.7,457.5 200.5,461.7 206.3,468.3 213,473.3 215.5,478.3 219.7,482.5 226.3,485 233,484.2 238,486.7 241.3,491.7 700,850 -50,850 -50,-50Z"/>
<path fill="#ffe132" d="M181.3,436.7C181.7,435.7 182.7,434.3 183.8,434.2C184.9,434.1 187,434.8 187.7,435.8C188.4,436.8 188.5,439 188,440C187.5,441 185.8,441.7 184.7,441.7C183.6,441.7 182.3,440.8 181.7,440C181.1,439.2 181,437.7 181.3,436.7Z"/>
<path fill="#ffaa00" d="M137.2,431.7L139.2,433.3 145.8,441.7 151.7,448.3 160.5,455 168,459.2 171.3,455.8 178,453.3 184.7,455.8 188,461.7 194.7,463.7 199.7,468.3 201,473.3 198,477.5 196.3,483.3 197.2,490 200.5,496.7 208,500 212.2,506.7 213,515 213.8,523.3 218,530 221.3,536.7 226.3,545 231.3,552.5 230,850 -50,850 -50,-50Z"/>
<path fill="#ffe132" d="M161.3,455.8C162,455 164.7,457.6 165.5,460C166.3,462.4 166.1,466.1 166.3,470C166.5,473.9 167,480.8 166.7,483.3C166.4,485.8 165.3,486.4 164.7,485C164.1,483.6 163.6,478.3 163,475C162.4,471.7 161.6,468.2 161.3,465C161,461.8 160.6,456.6 161.3,455.8Z"/>
<path fill="#ff6e00" d="M137.2,475L144.7,472.5 152.2,468.3 154.7,471.7 157.2,480 159.7,490 164.7,498.3 171.3,506.7 177.2,511.3 178.8,506.7 175.5,498.3 173.3,490 173,483.3 175.5,480.8 178.8,484.2 182.7,490 184.7,496.7 186.3,501.7 191.3,504.2 195.5,503.3 199.7,508.3 204.7,515 209.7,520 213.8,526.7 216.3,533.3 220.5,540 223.8,546.7 227.2,552.5 227,850 -50,850 -50,475Z"/>
<path fill="#ffffc8" d="M222.2,510L223.8,509.2 224.3,513.3 222.7,513.7Z"/>
<path fill="#ffffc8" d="M224.7,515.8L226,515.3 226.3,520 225,520.5Z"/>
<path fill="#ffffc8" d="M221.3,518.3L222.7,518 223,521.7 221.7,522Z"/>
<path fill="#ff0000" d="M197.2,552.5L198.8,547.5 202.2,546.3 206.3,548.3 211.3,549.2 214.7,547.5 217.2,548.3 218,552.5Z"/>
</g>
<g clip-path="url(#t16)">
<rect x="138" y="540" width="128" height="36" fill="#ffe132"/>
<path fill="#ffaa00" d="M197.6,489L200.8,496.3 209.1,499.4 213.3,507.8 211.2,516.2 216.5,525.6 221.7,536 228,548.6 234.2,559 240.5,569.5 244.7,576.8 245,850 -50,850 -50,-50Z"/>
<path fill="#ffaa00" d="M244.7,540.2C246.1,537.6 248.6,535.4 251,535C253.4,534.6 257.2,536.5 259.3,538.1C261.4,539.7 262.6,541.3 263.5,544.4C264.4,547.5 265,553.2 264.6,556.9C264.2,560.6 263,565.3 261.4,566.4C259.8,567.5 257.6,564.8 255.2,563.2C252.8,561.6 248.9,559 246.8,556.9C244.7,554.8 242.9,553.5 242.6,550.7C242.2,547.9 243.3,542.8 244.7,540.2Z"/>
<path fill="#ff6e00" d="M96.2,489L160,489 166.2,496.3 173.6,502.6 177.3,510.3 178.2,502.6 175.7,496.3 173.4,489 182.8,489 187.2,496.3 192.8,503.6 197.6,506.7 204.9,515.1 210.2,523.5 216.5,532.9 221.7,542.3 226.9,552.8 232.1,563.2 237.4,572.6 240.5,576.8 240,850 -50,850Z"/>
<path fill="#ff0000" d="M137,568.5L148.5,565.3 161,559 171.5,553.8 181.9,552.8 189.3,555.9 193.4,562.2 198.7,563.2 200.8,556.9 198.7,549.6 202.9,546.5 211.2,547.5 216.5,546.5 220.6,552.8 225.9,561.1 231.1,568.5 236.3,576.2 236,850 -50,850Z"/>
</g>
<g fill="none" stroke="#000" stroke-width="0.7" stroke-linejoin="round" stroke-linecap="round">
<path d="M172.8,317.2L175.7,318.2 181,319.9 186.3,321.6 191.6,323.2 197,324.7 202.4,326.2 207.8,327.6 213.2,329 218.6,330.2 224,331.4 229.5,332.6 235,333.6 240.5,334.6 246,335.6 251.5,336.4 257,337.2 262.5,338 268,338.6 273.6,339.2 279.1,339.8 284.7,340.2 290.2,340.6 295.8,340.9 301.4,341.2 307,341.4 312.5,341.5 318.1,341.5 323.7,341.5 329.2,341.4 329.2,338.1 330.9,338.8 331.8,342.6 333,343.9 337,344.6 339.6,344.3 343.6,345 345.7,346.4 348,347.3 351,348.4 354.7,347.9 358.4,347.6 361.4,348.2"/>
<path d="M161.2,338.3L164.4,339.8 166.4,341.4 166.9,343.8 167.3,346.3 169.5,347.4 173.9,347.5 175.9,349 179.6,349.3 185.3,349.1 189.1,349.3 193,350.4 197,351.5 201,352.5"/>
<path d="M206.7,327.4L204.9,334.5 203,341.7 201.2,348.9 201,352.5 202.6,356.5 200.8,358.7 198.5,362.6 195.7,366.3 196.9,367.9 195.6,370.7 193.7,378.2 191.8,385.7"/>
<path d="M147.8,372.3L153.5,374.3 159.2,376.2 164.9,378.1 170.7,379.8 176.5,381.5 182.2,383.2 188.1,384.8 193.9,386.3 199.7,387.7 205.6,389.1 211.5,390.4 217.4,391.6 223.3,392.8 229.2,393.8"/>
<path d="M173.4,380.7L171.6,386.9 169.8,393.1 167.9,399.3 166.1,405.5 170.3,412.7 174.6,420 179.1,427.1 183.7,434.3 188.5,441.4 193.4,448.6"/>
<path d="M201.2,432.4L199.7,439.2 194.9,439.9 194.1,444.2 193.4,448.6 195.5,455.3 192.2,458.2 189.7,462.1 188.4,467.9"/>
<path d="M210.4,390.1L208.9,397.2 207.3,404.2 205.8,411.2 204.3,418.3 202.7,425.3 201.2,432.4"/>
<path d="M201.2,432.4L207.8,433.8 214.4,435.1 221,436.3 227.7,437.5 234.4,438.6 241,439.5 247.7,440.5 254.4,441.3 261.1,442 267.8,442.7 274.6,443.3 281.3,443.8 288,444.2 294.8,444.5 301.5,444.8 308.3,445 315,445 321.7,445.1 328.5,445 335.2,444.8"/>
<path d="M170.7,465.4L176.6,466.3 182.5,467.1 188.4,467.9 187.3,469.8 193.5,473.8 199.9,477.7 206.3,481.6 212.8,485.4 219.9,486.6 227,487.7 234.1,488.8 234.7,484.9 240.9,485.7 247.2,486.5 250,490.2 253.4,494.2 258,498.2 259.4,503.7 261.3,507.9 266.4,511.5 270.6,513.9 273.2,510.3 275.7,507.3 280.8,507.2 284.6,507.9 288.3,511.6 291.2,517.6 294.1,523.1 298.7,528.7 300.1,535.1 301.6,538.7 305.6,540.2 308.9,542 314.6,543.5 317.4,543"/>
<path d="M235.3,438.7L234.1,446.8 232.8,455 231.6,463.2 230.3,471.4 229.1,479.6 227.8,487.9"/>
<path d="M240.5,404.5L239.5,411.3 238.5,418.1 237.4,425 236.4,431.8 235.3,438.7"/>
<path d="M233.7,368.4L232.5,375.2 231.3,382 230.1,388.8 228.9,395.5 227.7,402.3"/>
<path d="M227.7,402.3L233.5,403.3 239.3,404.3 245.1,405.1 250.9,405.9 256.7,406.7 262.5,407.3 268.3,407.9 274.2,408.5 280,408.9 285.9,409.4"/>
<path d="M233.7,368.4L239,369.3 244.2,370.2 249.5,371 254.8,371.7 260.1,372.4 265.3,373 270.6,373.5 275.9,374"/>
<path d="M279,339.7L278.3,347.4 277.6,355 277,362.6 276.3,370.2 275.6,377.8 274.9,385.5 274.2,393.1 273.6,400.7 272.9,408.4"/>
<path d="M212.1,328.7L211.1,333 210,337.2 211.3,340 210.6,342.3 212.8,344.4 214.3,346.9 217.1,350.6 215.7,354.3 215.3,357.3 213.9,359.6 217.2,361.2 219.5,365.2 220.2,367.6 222,371 225.4,371.2 230.3,371.7 231.3,370.2 233,372.7 233.7,368.4"/>
<path d="M276.7,366L282.2,366.4 287.8,366.8 293.4,367.2 299,367.4 304.6,367.7 310.2,367.8 315.8,367.9 321.4,367.9"/>
<path d="M274.4,391.2L280.2,391.7 286,392.1 291.8,392.4 297.7,392.7 303.5,392.9 309.3,393.1 313.1,394.4 317.5,395.3 322.2,397.5"/>
<path d="M285.9,409.4L285.4,416.2 285,423.1 284.5,430.1 284.1,437 283.7,443.9"/>
<path d="M285.3,418L291.7,418.3 298.1,418.6 304.5,418.8 310.8,419 317.2,419 323.6,419 330,418.9"/>
<path d="M277.1,443.5L276.5,450.7 275.8,457.9 275.2,465.2 274.6,472.5 274,479.8 273.3,487.1 266.7,486.6 260,486 253.4,485.3 246.8,484.5 247.2,486.5"/>
<path d="M276.7,447.8L282,448.2 287.2,448.5 292.5,448.8 297.7,449 297.4,457.5 297.1,465.9 299.2,467.4 302.7,469.3 307.1,469.8 311.4,472.1 317.2,473.5 320.9,472.6 326,473.9 329.6,472.5 334,474.1 340.4,474.8"/>
<path d="M337.1,474.1L337.1,466.4 337,458.7 336.2,453.9 335.4,449.2 335.2,441.6 335,434.1 334.9,426.6 331.7,423.2 330,418.9 326.8,413.8 325.9,407.8 324.5,402.6 322.2,397.5 322.2,392.3 321.3,388.9 322.2,388.9 322.1,381.1 322.1,373.4 319.7,370.8 321.4,367.9 320.3,362.2 319.7,354.4 318.8,350.1 317.9,345.8 317.5,341.5"/>
<path d="M340.4,474.8L340.6,481.6 340.9,488.5 344.8,495.4 343.6,503.5 343.1,508.8"/>
<path d="M340.5,479.5L347.6,479.2 354.6,478.9 361.7,478.5"/>
<path d="M335.4,449.2L341.6,449 347.9,448.7 354.1,448.3 360.4,447.9 366.6,447.4 365.4,451.9 370.1,451.5"/>
<path d="M326.8,413.8L332.1,413.7 337.4,413.5 342.7,413.3 348,413.1 353.3,412.8 355.4,414.5"/>
<path d="M322.2,388.9L327.6,388.8 333.1,388.7 338.5,388.5 344,388.2 349.4,387.9 354.8,387.6"/>
<path d="M347.6,360L346.6,360.9 346.9,366.5 343.4,370.2 344.5,372.7 344.4,377.5 347.6,379 352.2,383.5 354.8,387.6 355.6,391.9 359.1,395.9 362.5,399.1 361.8,402.2 360.1,404.9 357.7,408.1 357.4,412.5 355.4,414.5 355.5,418.7 358.5,422.8 361.1,426.1 364.9,427.1 363.9,431.9 368.7,435.9 370.6,440.9 373.3,442.6 371.5,447 370.1,451.5 368.8,456 366.6,460.5 364.9,465.1 361.9,469.7 361.2,474.1 361.7,478.5 362.9,482.8 362.9,487.3 360.2,491.9 359.7,496.4"/>
<path d="M359.7,496.4L366.8,495.9 373.9,495.3 373.7,498.8 375.9,502.2"/>
<path d="M359.1,395.9L365.1,395.4 371.1,394.8 377.1,394.2"/>
<path d="M379.5,400.3L380.3,407.2 381.1,414.1 382,421 382.7,425.7 380.9,430.3 380,434.7"/>
<path d="M373.3,442.6L376.9,441.2 377.9,438 380,434.7 383.2,433 386.5,434 390.4,432.2 393,431.4 395.1,428.7 396.6,424.7 400.5,423.7 400.4,420.7 402.4,420.4 404.8,422.6 408.3,423.3 413.1,423 416,424 418.3,419.4 421.2,415.3 425.5,410.9 425.7,404.7 426,402.5"/>
<path d="M396.9,398.5L398,405.9 399.1,413.3 400.3,420.7"/>
<path d="M381.6,400.1L386.7,399.4 391.8,398.7 396.9,398 396.9,398.5 401.2,397.7 405.5,396.8"/>
<path d="M371.5,447L376.4,446.5 381.2,446 381.1,444.7 387.2,444 393.2,443.3 399.3,442.6 405.4,441.8 411.4,440.9 418.1,439.8 424.8,438.6 431.6,437.3 438.2,435.9 444.9,434.5 451.6,433 458.2,431.4 464.8,429.7"/>
<path d="M366.6,460.5L373.1,460 379.5,459.3 385.9,458.6 392.3,457.8 398.7,457 405.1,456 411.4,455 417.8,454"/>
<path d="M425.2,438.4L423.1,443.2 419.8,445.2 414.1,449.3 410.7,452.9 409.2,455.4"/>
<path d="M381.6,459.1L382.4,459.9 382.4,467.5 382.4,475.2 382.4,482.9 383.4,491.2 384.5,499.6"/>
<path d="M400.1,456.8L402.2,463.5 404,469.3 405.8,475 408.2,479.5 408.6,486.6 409.6,491"/>
<path d="M391.5,499.7L390,493.6 396.5,492.8 403.1,491.9 409.6,491 411,493.4 418.1,492.8 425.2,492 431.6,492.7 432.5,489.3 436.7,489"/>
<path d="M438.4,476.4L433.8,472.4 429.6,467.9 424.6,463.4 420,458 417.8,454 423.1,451.2 427.5,450.6 432,450 432.2,451.2 433.1,450.2 434.3,452.6 438.2,451.8 442.1,451 447,454.1 452,457.2"/>
<path d="M411.4,440.9L414.9,437.6 419.9,433.6 421.8,430.6 426.7,432.3 429.9,430.8 433,428.8 434.4,424.1 435.6,419.8 438.3,417.9 440.1,415.3 442.5,412.1 445.8,408.6 446.5,409.6"/>
<path d="M421.8,430.6L417.3,427.5 416,424"/>
<path d="M434.4,408.9L435.3,413.2 438,410.4 441.2,407.9 444.2,407.6 446.5,409.6 448.5,411.1 451.4,411.7 451.2,414.9 453.4,417 457.1,417.4 459.3,419"/>
<path d="M426,402.5L427.6,410.3 433.7,409 439.9,407.6 446,406.1 452.1,404.6 458.2,403 459.9,408.2 461.6,413.5 465.9,412.3"/>
<path d="M458.2,403L460.4,401.4"/>
<path d="M426,402.5L424.5,395.5 423.1,388.5"/>
<path d="M427.8,387.8L428.3,390 433.9,388.8 439.4,387.5 444.8,386.1 450.3,384.7 455.8,383.3 461.3,387.5 459.6,392 460,395 463.8,397.6 460.4,401.4"/>
<path d="M461.3,387.5L467.1,389"/>
<path d="M468.7,388.5L468.9,385.7 467,379.6 466.7,373.4 464.4,366.4 462.5,360.6 460.5,354.9"/>
<path d="M467,379.6L472.3,378 477.5,376.5 480,375.7"/>
<path d="M477.5,376.5L479.1,382.6"/>
<path d="M480,375.7L481.3,377.8 483,379.5"/>
<path d="M466.7,373.4L471.7,372.1 475.2,371 478.7,370 481.1,367.6"/>
<path d="M471.7,372.1L469.7,364.7 470,358.3 471.4,353.8 471.3,351.5"/>
<path d="M452.7,357.3L457.4,355.9 462,354.5 466.7,353 471.3,351.5 472.2,348.6 474.4,348.3 475.7,341.9 475.7,337.4 476.5,332.3 477.2,327.1 479.8,328.6 482.6,326.2 486.2,327.6 488,332.2 489.8,336.8 492.6,338.5 494.9,341.8 498,343.8"/>
<path d="M481.1,365.7L478.3,362.4 475.7,355.3 473.1,348.3"/>
<path d="M452.7,357.3L449.9,361 447.1,364.6 444.7,367.5"/>
</g>
<g fill="none" stroke="#000" stroke-width="0.8" stroke-linejoin="round" stroke-linecap="round">
<path d="M209.2,562.1L207.4,557.1 201.9,549.6 196.8,545 193.2,541.5 194.9,537.2 194.5,530.6 190.3,526.5 186.2,522.4 182.8,518.9 179.6,515 176.4,511 176.1,509.6 182,511.4 184.5,507.3 182.6,501.4 178.3,495.8 175,489.6 174.1,484.8 173.3,480 171.8,475.1 172.3,471.5 170.7,465.4 170.5,463.8 170.1,459.1 167.5,454.8 164.3,452.6 164.2,450.3 161.5,449.1 159.7,447.6 156.8,444.5 151.7,442.6 151.5,438.4 151.4,436.1 149.3,430.8 146.7,424.1 147.5,421.6 147.7,418.5 145.9,412.8 146.8,410.4 144.1,407.6 144.6,405.1 142.1,398.7 142.9,394.4 143.3,389.1 142.1,384.6 144.4,382.1 147.1,374.4 147.8,372.3 148.2,364.7 151.3,360.8 153.7,356.1 156.1,351.5 159.2,344.4 161.3,338.8 162.2,334.5 162.5,331.9 162.6,323.7 163.4,319.6 165.8,321.5 168.2,323.4 171.5,324.5 173.3,325.6 172.7,329.9 169.6,333.9 172.8,332.7 174.1,330.4 176,327.4 175.7,322.8 175.7,318.2 174.2,315 173.1,312.8 170.9,310.6 168.7,308.5 167,305.1 163.8,301.6 160.8,298.2 158.8,295.6 157,292.9 157.1,288.3 158.4,282.3 156.3,274.9 152.9,270 153.5,262.4 156.9,260.1 159.2,256.1 155.8,255.5 154,253.2 152.9,247.5 150,250.9 149.5,244.1 147.7,237.2 144.3,234.9 146.6,230.3 145.5,225.8 144.9,218.9 143.7,213.2 142.6,209.7 141.5,206.3 140,203.1 138.6,200 140.3,196.6 136.9,196.6 134.9,194.6 132.9,192.6"/>
<path d="M209.2,562.1L213.4,559.9 211.3,552.1 207.8,549.7 205.5,543.7 202.7,535.8 202,528.3 199.2,523.2 196.7,517.2 194,512.1 191.4,505.1 189.5,499.2 184.7,491.8 184.4,486.3 184.5,480.8 185.8,476.6 190,478.4 195.4,482.3 196.9,488 198.3,494.7 199.8,501.3 202,506.3 205.4,511.5 208.7,515.8 210.4,519.7 214.4,525 217.9,529.2 217.8,534.7 220,539.6 226.2,545.1 229.7,550.2 234.1,555.5 238.3,562.5 243.4,570.5 246.1,577.3 247.5,581.2 245,587.6 242.9,591.1 245.8,597.1 250.7,602.3"/>
<path d="M322.1,598.1L319,593.4 316,588.7 314.1,584 312.1,579.3 311.8,571.9 312.1,567.3 312.3,562.7 313,558.1 313.7,553.5 316.2,547.1 317.4,543 316.2,537.1 315.8,530.8 317.9,526.3 319.8,523.6 323.4,520.9 326.9,519.1 332,515.9 335.8,512.6 338.9,510.3 343.1,508.8 347.3,508.2 352.8,509.3 355.1,509.6 358.5,507.6 362.1,509.6 364.6,511.2 367.9,512.7 371.7,512.4 374.7,510.4 378.1,512.8 380,512.6 381,510.2 376.8,507.5 377.3,504.8 376.3,502.6 377.7,501.1 380.7,500 383.8,500.1 387,500.6 387.3,497 390,500.3 393,499.5 399,497.8 402.1,498.3 405.4,499.7 408.6,502.8 412.1,502.3 415.6,499.9 417.6,497.8 420.9,498.6 424.6,502.1 427.5,504.7 430.3,507.4 430.5,512.9 430.6,515.6 432.2,518 433.2,514.6 433.9,520.5 436.5,523.7 438.8,526.9 440,527.1 441.8,530 445.5,531.6 448.3,535.3 449.1,537.4 452.4,536.8 454.7,535.8 455,533 455.6,530 454.8,521.9 452.6,517.7 449.5,512.8 447.6,507.7 445,504.6 442.7,501.4 439.2,495.7 437.6,491.5 436.7,489 436.4,485.4 437.2,481.6 438.4,476.4 440.9,473.7 444,470.3 444.5,468.9 447.6,465.9 448.7,463.9 449.2,461.1 452,457.2 455.8,455.9 456.6,453 460.7,448.4 464.5,447.4 466.1,443.4 470.2,440.3 469.3,436.2 467.6,433.9 464.8,429.7 463.2,427 460.9,426.7 459.7,424.8 459.6,421.6 459.3,419 457.4,415.9 455.9,412.8 455.5,410.2 454.7,408.1 457,405.3 456.7,408.1 457.6,411.4 457.8,414.9 461.7,417.5 462.3,420.9 462.8,424.8 464.1,421.3 465.3,416.5 465.9,412.3 464.8,409.4 462.1,407.5 460.5,405.2 460,403.6 462.9,405.5 465.4,407.9 468,403.6 468.9,399.7 468.5,395.8 467.9,393.7 467.2,392.6 468.3,390.4 468.7,388.5 471.1,386.4 472.7,385 476.3,383.4 479.1,382.6 481.1,381.4 480.8,378.4 483,379.5 483.8,379.2 485.1,376.9 486.1,378 489.8,376.7 489.7,375.6 487.7,372.8 487.1,372.9 489,374.7 486.1,376.1 484.5,374.4 481.6,372.7 483,369 481.1,367.6 481.1,365.7 482.9,360.8 484.5,358 488,354.9 488.6,351 492.1,351.6 493.8,349.1 496,346.4 498,343.8 499.6,340.4 501.6,338.2 504.3,335.4 506.9,332.7 508,329.9 509.1,330.4 507.5,335 508.5,336.7 505.1,342.8 505.7,350 510,351.4 512,348.1 513.9,344.7 515.8,340.8 517.6,337 521.3,333.7 525,330.3 527.1,327.7 529.2,325 529.9,322.3 532.8,318 530.6,315.7 526.6,311.4 525,310.9 524.5,315.3 523.6,319.6 525.4,324 522.5,325 519.7,326.1 516.6,326.6 511,327.2 508.5,327.4 506.6,326.8 503.7,323.8 501.3,321.1 501.1,314.6 497.7,315.6 494.4,316.5 491.4,316.8 494,315.5 496.5,314.2 500.1,309.4 499.6,305.4 495.3,304 492.2,305.3 489.1,306.6 485.7,309.5 482.3,312.5 480.3,315.1 478.2,317.7 476.3,321.4 474.4,325 471.5,333.4 468.1,336.3 470.4,330.1 472.6,322.5 474.5,318.4 476.3,314.3 477.5,311.1 481.4,308.7 482.6,304 483.8,299.4 487.8,297.5 491.7,295.5 495.7,293.5 499.1,292.3 502.6,291 506.1,289.7 509.4,288.2 512.7,286.6 516,284.9 517.4,280.4 518.8,275.8 521.8,272.3 524.8,268.7 526.9,264.6 528.9,260.5 526.3,256 522,249.4 519.1,250.1 516.2,250.7 511.9,248.1 509.7,249.3 507.2,244.6 503.7,244.5 500.3,244.3 495.8,242.6 491.4,240.9 487.7,240 484.1,239.1 479.7,232 476.1,228.8 472.6,225.5 468.2,222.6 463.9,219.7 458.7,213.2 458.1,222.1 457.9,229.9 455.7,233.7 453.4,237.4 449.2,238.1 443.4,234.5 441.1,230.6 437.7,225.2 434.9,218.6 430.4,217.4 427.4,216 424.5,214.6 422.3,216.2 418.9,214 415.6,211.7 411.7,211.9 407.8,212 405.2,213.1 402.6,214.1 399.9,215 396.8,213 398.9,219.9 399.8,224.3 400.6,228.7 405.7,234.8 405,241.4 402.7,247.4 406.4,249.8 410,252 412.3,256 414.5,260 417.2,266.5 415.6,271 413.9,275.5 410.2,279.5 406.5,283.5 410.5,289.7 412.7,297.2 416.2,302.7 414.9,309.2 411.8,312.5 407.9,312.5 403.5,307.2 399.6,304 395.8,300.7 395,296.5 394.2,292.2 392.9,286.7 391.7,281.2 387.4,281.5 383.2,281.8 379.5,282.3 375.8,282.9 372.3,281.3 368.7,279.7 365.2,278.1 361.2,274.6 357.2,271 354.7,270.8 352.3,270.6 348.6,270.9 345,271.2 341.3,271.4 338.6,264.5 337.4,260.1 336.3,255.8 331.9,256.4 328.8,249.8 329.1,245.4 329.4,240.9 331.9,235.5 333.9,231.3 335.8,227.2 339.2,219.8 341.9,217.3 344.6,214.8 340.7,213.3 336.8,211.7 332.9,210.1 336.4,209.4 339.9,208.8 343.4,208.1 346.8,207.3 349.6,208.3 352.4,209.3 355.2,210.2 356.9,207.7 358.6,205.2 357.7,197.9 359.1,193.5 360.4,189.2 359.7,183.6"/>
<path d="M467.9,392.5L470.6,391.5 474.6,388.9 479.6,384.6 476.7,384.7 474.1,387.3 469.9,389 468.3,390.4"/>
<path d="M347.6,360L352.6,355 357.5,350.7 361.4,348.2 363.3,344.6 367.1,342.4 368.2,339.3 372.6,340.5 375.4,340 378.2,339.4 380.1,340.9 382.5,345.8 385.6,345.6 388.6,345.3 390.9,350.6 392.6,353.8 393.1,357.2 389.5,355.4 386.5,356.9 382.9,357.3 380.3,359.5 375.4,359.3 373.1,356.9 369,357.8 370.1,354.2 372.2,351.7 369.4,352.6 365.7,356.4 362.3,358.1 357.7,360.6 354.8,360.8 355.2,358.2 352.3,359.3 349.4,360.4Z"/>
<path d="M392,363.5L388.4,362.3 383.2,363.5 381.1,365.9 378.3,365.8 375.7,371.8 373.8,376.8 377.2,374.2 379.4,369.6 377.8,374.1 376.7,380.3 375.9,386.5 375.9,389.5 377.1,394.2 378.9,399.2 381.2,401.5 384.2,399.8 385.7,396.6 386.8,390.3 385.7,386.6 383.9,380.7 384.3,374.2 387.9,371.1 389.8,367.3 390.5,364.2Z"/>
<path d="M392,363.5L393.9,364.5 400,366.1 401,368.6 402.4,374.9 401.3,377.7 400,381 403.2,377.8 405.2,376.6 408.6,381.2 410.1,384.9 413.7,381.6 413.2,377.7 413.9,371 410.9,365 415.6,367.2 416.4,369.6 421.7,369.4 422.4,366.7 420.2,362.3 415.1,358.5 410.8,358.5 407.7,358.2 404.6,357.9 401.6,358 398.6,358.1 393.1,357.2 396.1,361.1 392.1,362.2Z"/>
<path d="M408.5,362.4L406.2,359.8 400.9,360.8 403,362.1Z"/>
<path d="M405.6,397.1L410.6,397.9 413.8,397.4 417,396.8 422,392.2 425.9,389.2 430.3,385.2 432.1,381.7 428.4,382.5 424.6,386 419.5,386.2 414.5,390.6 411.3,394.3 407.3,393.7 406.9,391.6 409.2,389.9 410.1,384.9"/>
<path d="M407.3,393.7L405.6,397.1"/>
<path d="M430.3,378.6L433.4,377.4 436.6,376.2 439.2,376.4 444,374.8 446,372.5 446.3,368.9 444.7,367.5 443.9,366.8 441.4,369.7 440.3,370.4 437.1,370.3 432.5,372.3 427.5,375.7 425.7,379.1 429,379.3Z"/>
<path d="M432.1,381.7L430.3,378.6"/>
<path d="M468.1,336.3L464.9,339.6 461.6,343 458.2,351.2 455.4,354.3 452.7,357.3"/>
<path d="M170.4,322.3L167.3,320.8 165.6,318.8 162.1,315.2 159.4,311 156.5,307.6 156,304.2 152.3,299.4 152.3,295.7 151.7,292.9 154.4,293.3 156.2,295.5 159.7,298.2 163.2,301 165.4,305.4 166.3,308.5 168.3,312.9 169.7,314.8 171.1,319.4 171.3,321.7Z"/>
<path d="M141.3,256.2L144.1,258.2 146.9,260.3 143.4,265.4 143.4,269.2 142.6,277.9 140.4,270.7 139.3,264.4 140.1,258Z"/>
<path d="M529.6,303.2L529,294.3 528.3,289.3 528.1,283.6 527.4,279.1 526.7,274.5 528.5,269.2 530.1,263.8 532.2,262.3 533.1,268.1 533.1,273.5 532.9,279 535.5,275.6 539.3,275.5 542.9,277.4 543.9,275.3 547.3,272.8 552,274.5 556.4,277.4 557.7,285.7 559.6,281.5 563.3,284.8 565.6,292.5 562.1,293.1 558.9,294.5 556.1,287.6 553.9,292.9 551.5,298.2 549.7,297.3 552,292 549.3,293.1 546.5,294.1 542.8,296.4 539.1,298.7Z"/>
<path d="M506.2,323.6L506.9,319.1 513.8,321.7 516.8,320.4 519.7,319 518.7,323.8 514.5,324.7 510.2,323.8Z"/>
<path d="M494.5,297.8L498.2,295.9 501.9,294 506.2,294.7 510.5,295.3 508.7,299.4 504.9,299.8 501,300.1Z"/>
<path d="M422.3,572.8L426.2,568.3 430,563.8 435.5,560.5 442.3,557.4 449.2,557.1 456.8,554.1 461.9,555.4 466.9,556.7 471.8,557 476.7,557.3 482.2,557.9 488.4,561.6 496.9,563.3 502.4,563.3 510.5,564.9 517.6,567.3 511.3,572.5 503.9,573.9 496.1,576.5 488.3,579.1 491.3,573 484.6,571.7 476.8,564.9 471.2,565.7 465.6,566.5 459.8,564.4 453.7,564.7 448.4,564.3 443.5,561.4 439.3,564.6 435,567.7 427.8,571.2Z"/>
<path d="M442.3,569.2L438,570 438.2,573.3 441.8,573.6 443.2,571.9Z"/>
<path d="M472.5,532.3L477.1,535.4 480.3,541.2 480,543.7 473.7,540.9 471.5,534.9Z"/>
<path d="M463.4,520L468.7,519.7 471.3,518.6 466.4,520.6Z"/>
<path d="M472,516.1L478.7,518.1 478.9,523.7 477.2,520.4Z"/>
<path d="M483.7,525.8L489.1,528.6 489.7,532.7"/>
<path d="M493.7,531.6L497.4,535.4"/>
<path d="M499.4,539.6L504.9,545.2"/>
<path d="M510,545.7L513.9,549.9"/>
<path d="M519.8,557.8L524.4,557.9"/>
<path d="M525.2,569.4L530,567 535.5,566.7 540.1,563.7 546.9,561.5 554.2,561 562.2,562.1 571.2,565.9 570,570.4 561.5,571 557.7,573.6 553.8,576.2 548.7,584 544.9,581.2 537.4,581.6 532.2,583.2 527,584.8 520.1,585.3 520.6,582.2 526.5,581.4 532.4,580.6 537.7,578 532.7,574.1 532.1,570.8 527.3,570.3Z"/>
<path d="M485.7,593.3L490.3,592 494.8,590.6 499.5,590.9 504.3,591.1 505.1,594.4 497.4,597.3 492.5,596.4 487.6,595.3Z"/>
<path d="M179.1,117.1L180.8,119.9 182.6,122.8 184.4,125.6 186.2,128.4 188.2,130.1 190.3,131.7 193.7,130.8 197,129.8 199.4,130.7 201.8,131.6 204.3,131.6 206.8,131.5 209.2,131.4 212.3,130.7 215.3,129.9 218.3,129.1 221.3,128.2 221.9,131.1 222.6,133.9 223.2,136.8 223.9,139.6 227.4,137.8 230,135.7 229.6,141.7 231,144.7 234.1,143.5 237.1,142.2 239.2,143.9 241.3,145.6 243.1,147.4 244.9,149.3 246.8,151.1 248.7,152.6 250.7,154.1 252.6,155.6 254.6,158.5 256.6,161.5 255,166.9 257.4,167.6 259.8,168.3 262.2,169 265.2,169.1 268.2,169.2 271.2,169.2 273.6,171 276,172.8 278.1,176 279.7,177.6 280.9,174.5 278.6,167.5 280.7,165.6 282.7,163.8 285,165.7 287.4,167.7 289.9,169.9 292.3,172 294.7,171.9 297.1,171.8 299.5,171.6 302,173 304.6,174.3 307.4,173.3 310.1,172.2 312.7,173.2 315.4,174.2 316.1,168.5 318.4,169.5 320.7,170.4 322.5,178.9 325,174.2 325.2,167.5 328.1,160.8 326.3,158.4 324.6,156.1 322.9,152.2 321.2,148.4 322.7,140.6 325.1,133.6 327.2,133.6 329.3,136.9 331.5,140.3 333.3,143.6 335.1,146.9 334.4,152.8 336.2,154.6 338,156.4 341.1,161.9 342.6,166.6 344.5,165 346.4,163.4 348,161.3 349.4,159.2 351.1,167.7 352.8,176 356.1,179.4 357.6,176.8 359.1,174.3 358.7,166.7 358.4,161.9 358.1,157.1 358.7,152.2 361.4,151.6 364.1,151 366.8,150.4 369.2,153.1 371.6,155.8 370.6,159.9 369.6,163.9 372.1,167.3 374.5,170.7 375.3,176.3 372.6,180.1 369.9,183.9 366.8,184.9 363.7,185.9 361.7,184.8 359.7,183.6"/>
<path d="M255.6,119.1L253.5,123.7 251.5,128.3 252.5,131.6 253.5,134.9 253.5,138.9 254.5,141.2 255.7,143.5 252.4,145.7 252.9,151.7 255.3,154.1 257.8,156.4 259.8,159 261.9,161.6 264.2,161.8 266.6,161.9 268.9,162.1 271.9,161.6 274.9,161.2 277.9,160.7 280.6,162 283.3,163.4 286,164.7 288.5,163.7 290.9,162.6 293.3,161.6 296.1,161.9 299,162.1 301.8,162.3 304.5,156.7 305.8,151 303.7,149.5 301.6,148.1 299.6,146.7 297.3,144.5 295.1,142.4 295.7,136.5 294.6,132 293.5,127.4 291.7,125.5 290,123.6 288.2,121.7"/>
<path d="M317.3,154.2L314.3,156.1 311.2,157.9 310.3,163.6 312.6,165 314.9,166.3 317.2,167.6 320.1,166.2 323.1,164.7 323,158Z"/>
<path d="M304.3,123.3L302.9,131.2 305.3,134 307.7,136.7 310.2,139.4 312.2,139 314.3,138.6 316.6,134.7 318.9,130.7 318.4,121.7"/>
<path d="M322.5,123.7L325,132.6 326.9,132.6 328.7,132.5 331.2,127.9 333.6,123.3"/>
<path d="M338.8,115.8L340.6,119.2 342.4,122.6 340.7,129.8 340.7,137.7 343.6,144.3 346.9,151.8 349.6,150.5 352.3,149.2 355,151.3 357.8,153.3 360.5,152.2 363,151 365.6,149.8 368.2,148.6 371,148.9 373.9,149.1 376.8,149.3 378.9,147.6 381.1,145.9 384.2,148.1 387.3,150.2 390.2,154.4 393.6,157 397,159.4 399.4,160.2 401.9,161 405.5,166.7 404.7,172.8 405.5,177.5 406.3,182.1 403.9,185.6 401.5,189.2 398.9,189.3 396.2,189.3 393.6,189.4 392.4,196.3 396,196.8 399.6,197.3 402,196 404.4,194.7 406.8,193.4 409.5,192.2 412.2,190.9 414.9,192.9 417.7,194.9 421.3,199.5 424.8,200.2 428.3,200.9 432.2,203.4 435.6,203.4 438.9,203.3 442.3,203.2 445.6,203.1 445.9,198.1 441.9,197.8 438,197.4 434.7,195.2 431.5,193 434.5,192.9 437.5,192.7 440.5,192.5 444.2,192.4 447.9,192.4 445.4,188.5 442.9,184.6 438.6,182.4 434.3,180.2 429.4,175.2 426,168.5 430,170 434.1,171.3 437.2,172.4 440.4,173.4 443.7,174.3 444.3,169 445,164.6 445.7,160.2 445.4,155.2 441.7,153.8 438,152.4 434.6,151.3 431.2,150.2 428.2,149.1 425.2,148 422.2,146.8 419.2,143.9 416.2,140.9 413.3,138 410.4,134.9 407.8,134.1 405.2,133.4 402.6,132.5 399.1,129.6 395.7,126.6 392.7,125.8 389.8,125 386.8,124.1 384.2,123.3 381.7,122.5 379.1,121.6 376.6,120.7 374.1,120 371.6,119.3 369.2,118.6 366.8,117.8 364.1,115.3 361.4,112.7 359.6,114.8 357.8,117 355.9,119 354,121.1 351.6,119.4 349.1,117.7 346.5,117.3 344,116.8 341.4,116.3 338.8,115.8Z"/>
<path d="M360.3,188.2L358.5,191.7 356.6,195.2 356.4,203.6 359.4,206.5 362.4,209.3 365,210.8 367.7,212.2 370.5,212.4 373.3,212.5 376.1,212.7 378.7,209.9 381.3,207.1 383.7,207.1 386.2,207 386.1,200.5 382.5,200.8 378.9,201 376.5,199.2 374.2,197.3 371.5,195.8 368.9,194.4 368.2,189.9 366,188.3 363.9,186.8Z"/>
<path d="M376.4,214.5L376.9,217.1 379.9,218.4 382.9,219.7 386.1,217.7 389.3,215.6 385.3,214.6 381.3,213.6Z"/>
<path d="M389.5,216.5L389.2,221.2 392.7,223.2 393.6,219.3Z"/>
<path d="M389.2,164.5L389.6,170.2 392.7,169.4 395.9,168.6 396.3,163.6Z"/>
<path d="M396.9,297.9L402.2,300.4 404.5,299 406.9,297.6 404.1,296.9 401.3,296.1Z"/>
<path d="M402.2,266.5L403.4,271.7 406.4,271.9 405.7,266.6Z"/>
<path d="M217.7,168.6L217.1,172.3 220,174.3 222.9,176.3 219.4,181.9 222.1,184.8 226.5,181.4 227.5,184.6 228.5,187.8 230.3,188.6 232.2,189.3 234.6,183.8 237.5,182.7 240.3,181.6 243,177.5 240.1,176.7 237.2,175.9 234.2,176.9 231.1,178 231.3,172.2 229.7,171.2 228.1,170.2 224.5,173.9Z"/>
<path d="M232.9,225.7L235.9,227.2 238.9,228.6 243.1,227.9 247.2,227.2 251.5,224.9 255.6,222.5 259.1,221.3 262.5,220.1 266,218.4 269.4,216.6 266.8,215.8 264.2,214.9 260.8,216.6 257.3,218.2 253.8,217.6 250.3,216.8 246.3,219.7 244.1,217.8 241.9,215.9 239,218.9 236.1,221.9Z"/>
<path d="M253.9,251.2L256.8,250.4 259.8,249.6 262.6,249.3 265.4,249.1 266.7,246.6 263.9,246.8 261.1,247.1 258.2,247.9 255.3,248.8Z"/>
<path d="M291.7,276.3L294.9,271.3 297.8,263.5 294.6,261.6 291,266.6 289.6,271.8Z"/>
<path d="M319.9,329.5L322.1,324.3 320.4,317.4 317.8,310.4 314.7,303.5 312.7,299.1 308.5,300.7 307.3,306.8 310.3,312.9 314,318.2 317.7,322.5 318.3,326.9Z"/>
<path d="M303.8,317.1L301.4,310.9 301.1,305.7 304.1,308.4 306,315.4Z"/>
<path d="M311.6,330.3L310.1,325 308.6,319.8 311.2,322.5 313.3,327.7Z"/>
<path d="M217.7,394.3L216.4,397.5 219.3,403 221.4,402.1 220.3,397.5Z"/>
<path d="M447.4,518.8L449.3,519.8 449.4,522.5 447.1,523 446.2,520.9Z"/>
<path d="M148.9,218.9L153.5,216.6 151.2,222.3 150.6,225.8 153.5,228 154,233.2 150,230.3 147.7,233.8 148.3,228 148.9,223.5Z"/>
<path d="M150.6,239.5L155.2,242.9 152.9,247.5 150,253.2 148.9,248.6 148.3,244.1Z"/>
<path d="M132.9,192.6L127.5,186 122.5,180.3 119.3,172.8 115.2,167 113.5,167.8 108.5,172.8 101,171.2 93.5,169.5 97.7,166.2 103.5,162 109.3,161.7 110.2,159.5 106,158.7 100.2,159.5 94.3,162 87.7,163.7 85.2,166.7 77.7,167.8 67.7,167.8 57.7,166.2 51,167 42.7,162.8 36,161.2 30,160"/>
<path d="M58.5,127L61,130.3 64.3,132 63.5,135.3 60.2,137.8 59.3,141.2 62.7,143.7 66,147 66.8,151.2 70.2,153.7 71.8,156.2 66,161.2 52.7,161.2 44.3,159.5 36,156.2 30,154"/>
<path d="M71.3,172.8L86,172.3 86.3,175.3 81.8,175.8 81.3,179 75.2,178.7 71.3,177.8Z"/>
<path d="M454.7,535.8L453.1,538.5 449.9,541.5 444.5,543.9"/>
<path d="M460.9,354.9L462.1,359 463.5,365.8 461.5,359.2Z"/>
<path d="M329.5,338.4L330.6,340.5 332.9,341.3 332.3,338.8Z"/>
<path d="M174.6,323.3L174.6,326.9 173.5,327.5 173.4,325.2Z"/>
<path d="M173.4,327.4L172.7,331.7 170.7,332.4 169.7,329.8 171.8,328.2Z"/>
<path d="M174.1,330.4L172.2,332.5 172.2,329.7"/>
<path d="M460.5,124L460.8,127 462.3,134.7 466.7,142.1 471.1,147.2 476.3,149.4 481.4,154.6 487.3,159 494.6,163.4 502,167.8 509.4,172.2 515.2,173.7 521.1,170.7 528.5,171.5 534.4,169.3 535.8,165.6 533.6,159.7 529.9,153.8 527,149.4 524.1,145.7 524.1,139.1 521.1,133.2 517.4,128.8 514.5,127 513,124"/>
<path d="M466.1,443.4L462.3,441.6 465.7,439.4 465.1,435.5 460.8,435.7 464.7,432.9 466.9,434.1 468.8,437.2 469.7,440.4"/>
<path d="M460.6,426.8L456,425.7 459.1,426.7"/>
<path d="M458.4,418.4L453.2,416.1 455,417.5"/>
<path d="M459.3,421.7L455.2,419.6"/>
<path d="M460,415.2L459.1,411.9 457.1,409.7"/>
<path d="M335.8,512.6L334.9,508.6 338.1,510.3"/>
<path d="M323.4,520.9L321.8,518.2 326.5,519.1"/>
<path d="M317.9,526.3L315.1,525.8 316.7,527.7"/>
<path d="M319.8,523.6L317.9,523.6"/>
<path d="M369.5,504.1L371.6,501.3 374.4,502.3 372.6,503.8Z"/>
<path d="M362.1,509.6L360.4,507.5 358.2,509.4"/>
<path d="M374.7,510.4L372.9,507.8 371.6,510.2"/>
<path d="M387,500.6L386.9,496.6 388.7,499.1"/>
<path d="M399,497.8L401.2,496.7"/>
<path d="M393,499.5L394.3,497.1"/>
<path d="M488.6,351L487.6,348.2"/>
<path d="M484.5,358L484,356.4"/>
<path d="M480.8,378.4L481.8,380.3"/>
<path d="M467.9,393.7L465.9,392.9 465.8,393.8"/>
</g>
</g>
<rect x="43.1" y="637.7" width="37.8" height="40.1" fill="#00008e"/>
<rect x="80.6" y="637.7" width="37.8" height="40.1" fill="#0000cd"/>
<rect x="118.1" y="637.7" width="37.8" height="40.1" fill="#4169e1"/>
<rect x="155.6" y="637.7" width="37.8" height="40.1" fill="#1e90ff"/>
<rect x="193.1" y="637.7" width="37.8" height="40.1" fill="#00bfff"/>
<rect x="230.6" y="637.7" width="37.8" height="40.1" fill="#a0d2ff"/>
<rect x="268.1" y="637.7" width="37.8" height="40.1" fill="#c8f5ff"/>
<rect x="305.6" y="637.7" width="37.8" height="40.1" fill="#ffffc8"/>
<rect x="343.1" y="637.7" width="37.8" height="40.1" fill="#ffe132"/>
<rect x="380.6" y="637.7" width="37.8" height="40.1" fill="#ffaa00"/>
<rect x="418.1" y="637.7" width="37.8" height="40.1" fill="#ff6e00"/>
<rect x="455.6" y="637.7" width="37.8" height="40.1" fill="#ff0000"/>
<rect x="493.1" y="637.7" width="37.8" height="40.1" fill="#c80000"/>
<rect x="530.6" y="637.7" width="37.5" height="40.1" fill="#a02323"/>
</svg>
<div class="title">WRFP+NCEP, DJF Avg, 1979-2004</div>
<div class="sub l">Temperature</div>
<div class="sub r">Deg C</div>
<span class="lb" style="left:51.8px"><i>−</i>30</span><span class="lb" style="left:89.3px"><i>−</i>25</span><span class="lb" style="left:126.8px"><i>−</i>20</span><span class="lb" style="left:164.3px"><i>−</i>15</span><span class="lb" style="left:201.8px"><i>−</i>10</span><span class="lb" style="left:239.3px"><i>−</i>5</span><span class="lb" style="left:275.9px">0</span><span class="lb" style="left:313.4px">5</span><span class="lb" style="left:350.9px">10</span><span class="lb" style="left:388.4px">15</span><span class="lb" style="left:425.9px">20</span><span class="lb" style="left:463.4px">25</span><span class="lb" style="left:500.9px">30</span>
</body></html>
